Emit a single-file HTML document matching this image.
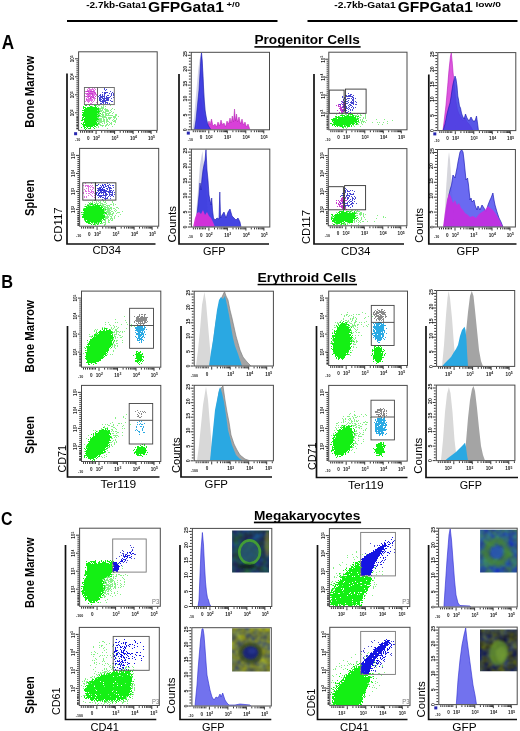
<!DOCTYPE html>
<html><head><meta charset="utf-8"><style>
html,body{margin:0;padding:0;background:#fff;width:520px;height:731px;overflow:hidden}
svg{display:block;font-family:"Liberation Sans", sans-serif;will-change:transform}
</style></head><body>
<svg width="520" height="731" viewBox="0 0 520 731">
<defs>
<filter id="b05" x="-50%" y="-50%" width="200%" height="200%"><feGaussianBlur stdDeviation="0.5"/></filter>
<filter id="b1" x="-50%" y="-50%" width="200%" height="200%"><feGaussianBlur stdDeviation="0.9"/></filter>
<filter id="b15" x="-50%" y="-50%" width="200%" height="200%"><feGaussianBlur stdDeviation="1.3"/></filter>
<filter id="b2" x="-50%" y="-50%" width="200%" height="200%"><feGaussianBlur stdDeviation="1.8"/></filter>
<filter id="b3" x="-50%" y="-50%" width="200%" height="200%"><feGaussianBlur stdDeviation="2.6"/></filter>
<filter id="b4" x="-50%" y="-50%" width="200%" height="200%"><feGaussianBlur stdDeviation="3.6"/></filter>
<filter id="spGL" x="0" y="0" width="520" height="731" filterUnits="userSpaceOnUse" color-interpolation-filters="sRGB">
<feTurbulence type="fractalNoise" baseFrequency="0.9" numOctaves="2" seed="43" result="n"/>
<feColorMatrix in="n" type="matrix" values="0 0 0 0 0 0 0 0 0 0 0 0 0 0 0 1 0 0 0 0" result="a0"/>
<feComponentTransfer in="a0" result="na"><feFuncA type="table" tableValues="0.030 0.030 0.030 0.030 0.030 0.030 0.030 0.030 0.030 0.030 0.030 0.032 0.051 0.076 0.114 0.153 0.200 0.267 0.333 0.418 0.490 0.584 0.667 0.732 0.798 0.845 0.886 0.924 0.949 0.969 0.970 0.970 0.970 0.970 0.970 0.970 0.970 0.970 0.970 0.970 0.970"/></feComponentTransfer>
<feComposite in="SourceAlpha" in2="na" operator="arithmetic" k2="1" k3="-1" k4="0.5" result="df"/>
<feComponentTransfer in="df" result="m"><feFuncA type="discrete" tableValues="0 1"/></feComponentTransfer>
<feFlood flood-color="#86f086" result="f"/>
<feComposite in="f" in2="m" operator="in"/>
<feGaussianBlur stdDeviation="0.55"/>
</filter>
<filter id="spG" x="0" y="0" width="520" height="731" filterUnits="userSpaceOnUse" color-interpolation-filters="sRGB">
<feTurbulence type="fractalNoise" baseFrequency="0.9" numOctaves="2" seed="5" result="n"/>
<feColorMatrix in="n" type="matrix" values="0 0 0 0 0 0 0 0 0 0 0 0 0 0 0 1 0 0 0 0" result="a0"/>
<feComponentTransfer in="a0" result="na"><feFuncA type="table" tableValues="0.030 0.030 0.030 0.030 0.030 0.030 0.030 0.030 0.030 0.030 0.030 0.032 0.051 0.076 0.114 0.153 0.200 0.267 0.333 0.418 0.490 0.584 0.667 0.732 0.798 0.845 0.886 0.924 0.949 0.969 0.970 0.970 0.970 0.970 0.970 0.970 0.970 0.970 0.970 0.970 0.970"/></feComponentTransfer>
<feComposite in="SourceAlpha" in2="na" operator="arithmetic" k2="1" k3="-1" k4="0.5" result="df"/>
<feComponentTransfer in="df" result="m"><feFuncA type="discrete" tableValues="0 1"/></feComponentTransfer>
<feFlood flood-color="#14f014" result="f"/>
<feComposite in="f" in2="m" operator="in"/>
<feGaussianBlur stdDeviation="0.55"/>
</filter>
<filter id="spGR" x="0" y="0" width="520" height="731" filterUnits="userSpaceOnUse" color-interpolation-filters="sRGB">
<feTurbulence type="fractalNoise" baseFrequency="0.9" numOctaves="2" seed="11" result="n"/>
<feColorMatrix in="n" type="matrix" values="0 0 0 0 0 0 0 0 0 0 0 0 0 0 0 1 0 0 0 0" result="a0"/>
<feComponentTransfer in="a0" result="na"><feFuncA type="table" tableValues="0.030 0.030 0.030 0.030 0.030 0.030 0.030 0.030 0.030 0.030 0.030 0.032 0.051 0.076 0.114 0.153 0.200 0.267 0.333 0.418 0.490 0.584 0.667 0.732 0.798 0.845 0.886 0.924 0.949 0.969 0.970 0.970 0.970 0.970 0.970 0.970 0.970 0.970 0.970 0.970 0.970"/></feComponentTransfer>
<feComposite in="SourceAlpha" in2="na" operator="arithmetic" k2="1" k3="-1" k4="0.5" result="df"/>
<feComponentTransfer in="df" result="m"><feFuncA type="discrete" tableValues="0 1"/></feComponentTransfer>
<feFlood flood-color="#8a8a8a" result="f"/>
<feComposite in="f" in2="m" operator="in"/>
<feGaussianBlur stdDeviation="0.55"/>
</filter>
<filter id="spCY" x="0" y="0" width="520" height="731" filterUnits="userSpaceOnUse" color-interpolation-filters="sRGB">
<feTurbulence type="fractalNoise" baseFrequency="0.9" numOctaves="2" seed="17" result="n"/>
<feColorMatrix in="n" type="matrix" values="0 0 0 0 0 0 0 0 0 0 0 0 0 0 0 1 0 0 0 0" result="a0"/>
<feComponentTransfer in="a0" result="na"><feFuncA type="table" tableValues="0.030 0.030 0.030 0.030 0.030 0.030 0.030 0.030 0.030 0.030 0.030 0.032 0.051 0.076 0.114 0.153 0.200 0.267 0.333 0.418 0.490 0.584 0.667 0.732 0.798 0.845 0.886 0.924 0.949 0.969 0.970 0.970 0.970 0.970 0.970 0.970 0.970 0.970 0.970 0.970 0.970"/></feComponentTransfer>
<feComposite in="SourceAlpha" in2="na" operator="arithmetic" k2="1" k3="-1" k4="0.5" result="df"/>
<feComponentTransfer in="df" result="m"><feFuncA type="discrete" tableValues="0 1"/></feComponentTransfer>
<feFlood flood-color="#2aaae4" result="f"/>
<feComposite in="f" in2="m" operator="in"/>
<feGaussianBlur stdDeviation="0.55"/>
</filter>
<filter id="spPK" x="0" y="0" width="520" height="731" filterUnits="userSpaceOnUse" color-interpolation-filters="sRGB">
<feTurbulence type="fractalNoise" baseFrequency="0.9" numOctaves="2" seed="23" result="n"/>
<feColorMatrix in="n" type="matrix" values="0 0 0 0 0 0 0 0 0 0 0 0 0 0 0 1 0 0 0 0" result="a0"/>
<feComponentTransfer in="a0" result="na"><feFuncA type="table" tableValues="0.030 0.030 0.030 0.030 0.030 0.030 0.030 0.030 0.030 0.030 0.030 0.032 0.051 0.076 0.114 0.153 0.200 0.267 0.333 0.418 0.490 0.584 0.667 0.732 0.798 0.845 0.886 0.924 0.949 0.969 0.970 0.970 0.970 0.970 0.970 0.970 0.970 0.970 0.970 0.970 0.970"/></feComponentTransfer>
<feComposite in="SourceAlpha" in2="na" operator="arithmetic" k2="1" k3="-1" k4="0.5" result="df"/>
<feComponentTransfer in="df" result="m"><feFuncA type="discrete" tableValues="0 1"/></feComponentTransfer>
<feFlood flood-color="#e070e0" result="f"/>
<feComposite in="f" in2="m" operator="in"/>
<feGaussianBlur stdDeviation="0.55"/>
</filter>
<filter id="spMG" x="0" y="0" width="520" height="731" filterUnits="userSpaceOnUse" color-interpolation-filters="sRGB">
<feTurbulence type="fractalNoise" baseFrequency="0.9" numOctaves="2" seed="29" result="n"/>
<feColorMatrix in="n" type="matrix" values="0 0 0 0 0 0 0 0 0 0 0 0 0 0 0 1 0 0 0 0" result="a0"/>
<feComponentTransfer in="a0" result="na"><feFuncA type="table" tableValues="0.030 0.030 0.030 0.030 0.030 0.030 0.030 0.030 0.030 0.030 0.030 0.032 0.051 0.076 0.114 0.153 0.200 0.267 0.333 0.418 0.490 0.584 0.667 0.732 0.798 0.845 0.886 0.924 0.949 0.969 0.970 0.970 0.970 0.970 0.970 0.970 0.970 0.970 0.970 0.970 0.970"/></feComponentTransfer>
<feComposite in="SourceAlpha" in2="na" operator="arithmetic" k2="1" k3="-1" k4="0.5" result="df"/>
<feComponentTransfer in="df" result="m"><feFuncA type="discrete" tableValues="0 1"/></feComponentTransfer>
<feFlood flood-color="#c83cd0" result="f"/>
<feComposite in="f" in2="m" operator="in"/>
<feGaussianBlur stdDeviation="0.55"/>
</filter>
<filter id="spBL" x="0" y="0" width="520" height="731" filterUnits="userSpaceOnUse" color-interpolation-filters="sRGB">
<feTurbulence type="fractalNoise" baseFrequency="0.9" numOctaves="2" seed="31" result="n"/>
<feColorMatrix in="n" type="matrix" values="0 0 0 0 0 0 0 0 0 0 0 0 0 0 0 1 0 0 0 0" result="a0"/>
<feComponentTransfer in="a0" result="na"><feFuncA type="table" tableValues="0.030 0.030 0.030 0.030 0.030 0.030 0.030 0.030 0.030 0.030 0.030 0.032 0.051 0.076 0.114 0.153 0.200 0.267 0.333 0.418 0.490 0.584 0.667 0.732 0.798 0.845 0.886 0.924 0.949 0.969 0.970 0.970 0.970 0.970 0.970 0.970 0.970 0.970 0.970 0.970 0.970"/></feComponentTransfer>
<feComposite in="SourceAlpha" in2="na" operator="arithmetic" k2="1" k3="-1" k4="0.5" result="df"/>
<feComponentTransfer in="df" result="m"><feFuncA type="discrete" tableValues="0 1"/></feComponentTransfer>
<feFlood flood-color="#4646d2" result="f"/>
<feComposite in="f" in2="m" operator="in"/>
<feGaussianBlur stdDeviation="0.55"/>
</filter>
<filter id="spDB" x="0" y="0" width="520" height="731" filterUnits="userSpaceOnUse" color-interpolation-filters="sRGB">
<feTurbulence type="fractalNoise" baseFrequency="0.9" numOctaves="2" seed="37" result="n"/>
<feColorMatrix in="n" type="matrix" values="0 0 0 0 0 0 0 0 0 0 0 0 0 0 0 1 0 0 0 0" result="a0"/>
<feComponentTransfer in="a0" result="na"><feFuncA type="table" tableValues="0.030 0.030 0.030 0.030 0.030 0.030 0.030 0.030 0.030 0.030 0.030 0.032 0.051 0.076 0.114 0.153 0.200 0.267 0.333 0.418 0.490 0.584 0.667 0.732 0.798 0.845 0.886 0.924 0.949 0.969 0.970 0.970 0.970 0.970 0.970 0.970 0.970 0.970 0.970 0.970 0.970"/></feComponentTransfer>
<feComposite in="SourceAlpha" in2="na" operator="arithmetic" k2="1" k3="-1" k4="0.5" result="df"/>
<feComponentTransfer in="df" result="m"><feFuncA type="discrete" tableValues="0 1"/></feComponentTransfer>
<feFlood flood-color="#1414e2" result="f"/>
<feComposite in="f" in2="m" operator="in"/>
<feGaussianBlur stdDeviation="0.55"/>
</filter>
<clipPath id="c1"><rect x="79.20" y="105.20" width="77.40" height="24.60"/></clipPath>
<clipPath id="c2"><rect x="84.80" y="87.90" width="12.70" height="16.50"/></clipPath>
<clipPath id="c3"><rect x="97.50" y="87.90" width="16.60" height="16.50"/></clipPath>
<clipPath id="c4"><rect x="79.20" y="52.40" width="77.40" height="77.40"/></clipPath>
<clipPath id="c5"><rect x="80.20" y="200.60" width="77.80" height="25.00"/></clipPath>
<clipPath id="c6"><rect x="95.40" y="183.20" width="20.10" height="16.60"/></clipPath>
<clipPath id="c7"><rect x="83.20" y="183.20" width="12.20" height="16.60"/></clipPath>
<clipPath id="c8"><rect x="329.40" y="113.60" width="77.00" height="15.60"/></clipPath>
<clipPath id="c9"><rect x="329.60" y="89.50" width="36.20" height="23.50"/></clipPath>
<clipPath id="c10"><rect x="329.40" y="52.80" width="77.00" height="76.40"/></clipPath>
<clipPath id="c11"><rect x="328.90" y="210.10" width="77.40" height="15.10"/></clipPath>
<clipPath id="c12"><rect x="328.90" y="186.00" width="36.50" height="23.50"/></clipPath>
<clipPath id="c13"><rect x="328.90" y="149.20" width="77.40" height="76.00"/></clipPath>
<clipPath id="c14"><rect x="82.10" y="291.70" width="78.10" height="74.90"/></clipPath>
<clipPath id="c15"><rect x="130.00" y="348.60" width="22.00" height="17.40"/></clipPath>
<clipPath id="c16"><rect x="130.00" y="308.70" width="23.10" height="16.60"/></clipPath>
<clipPath id="c17"><rect x="130.00" y="325.70" width="23.10" height="22.30"/></clipPath>
<clipPath id="c18"><rect x="82.10" y="386.00" width="78.10" height="74.90"/></clipPath>
<clipPath id="c19"><rect x="130.00" y="444.30" width="22.40" height="15.70"/></clipPath>
<clipPath id="c20"><rect x="129.60" y="403.90" width="22.70" height="16.20"/></clipPath>
<clipPath id="c21"><rect x="129.60" y="420.50" width="22.70" height="23.20"/></clipPath>
<clipPath id="c22"><rect x="329.30" y="291.70" width="77.60" height="73.20"/></clipPath>
<clipPath id="c23"><rect x="371.50" y="345.80" width="22.50" height="19.20"/></clipPath>
<clipPath id="c24"><rect x="371.70" y="305.80" width="22.00" height="16.40"/></clipPath>
<clipPath id="c25"><rect x="371.70" y="322.60" width="22.00" height="22.50"/></clipPath>
<clipPath id="c26"><rect x="329.30" y="386.00" width="77.30" height="74.50"/></clipPath>
<clipPath id="c27"><rect x="371.40" y="440.20" width="22.60" height="20.30"/></clipPath>
<clipPath id="c28"><rect x="371.40" y="400.60" width="22.60" height="16.20"/></clipPath>
<clipPath id="c29"><rect x="371.40" y="417.20" width="22.60" height="22.30"/></clipPath>
<clipPath id="c30"><rect x="80.20" y="528.80" width="79.50" height="76.90"/></clipPath>
<clipPath id="c31"><rect x="113.10" y="539.40" width="32.70" height="32.30"/></clipPath>
<clipPath id="c32"><rect x="79.90" y="628.00" width="78.80" height="76.90"/></clipPath>
<clipPath id="c33"><rect x="113.60" y="636.80" width="35.20" height="33.10"/></clipPath>
<clipPath id="c34"><rect x="330.00" y="529.20" width="79.20" height="76.80"/></clipPath>
<clipPath id="c35"><rect x="361.10" y="532.80" width="33.90" height="42.70"/></clipPath>
<clipPath id="c36"><rect x="330.40" y="627.90" width="79.00" height="77.10"/></clipPath>
<clipPath id="c37"><rect x="361.10" y="631.80" width="33.90" height="42.20"/></clipPath>
<clipPath id="c38"><rect x="191.80" y="52.80" width="77.20" height="76.50"/></clipPath>
<clipPath id="c39"><rect x="191.90" y="149.60" width="77.40" height="76.90"/></clipPath>
<clipPath id="c40"><rect x="438.30" y="53.10" width="77.00" height="77.00"/></clipPath>
<clipPath id="c41"><rect x="438.00" y="150.00" width="76.90" height="76.50"/></clipPath>
<clipPath id="c42"><rect x="194.70" y="291.70" width="78.20" height="73.80"/></clipPath>
<clipPath id="c43"><rect x="194.70" y="385.80" width="78.20" height="74.50"/></clipPath>
<clipPath id="c44"><rect x="437.10" y="291.00" width="77.10" height="74.90"/></clipPath>
<clipPath id="c45"><rect x="436.80" y="385.60" width="77.60" height="74.50"/></clipPath>
<clipPath id="c46"><rect x="192.90" y="528.90" width="78.40" height="77.10"/></clipPath>
<clipPath id="c47"><rect x="192.40" y="628.20" width="78.40" height="77.30"/></clipPath>
<clipPath id="c48"><rect x="439.10" y="528.70" width="77.60" height="77.80"/></clipPath>
<clipPath id="c49"><rect x="439.30" y="627.60" width="77.40" height="76.50"/></clipPath>
<filter id="m1" x="232.1" y="530.4" width="36.900000000000006" height="42.0" filterUnits="userSpaceOnUse" color-interpolation-filters="sRGB"><feTurbulence type="fractalNoise" baseFrequency="0.12" numOctaves="2" seed="3"/><feColorMatrix type="matrix" values="-0.039 0.000 0 0 0.137  -0.059 0.314 0 0 0.116  0.471 0.078 0 0 0.078  0 0 0 0 1"/></filter>
<clipPath id="c50"><rect x="232.10" y="530.40" width="36.90" height="42.00"/></clipPath>
<filter id="m2" x="480.1" y="529.8" width="36.89999999999998" height="42.700000000000045" filterUnits="userSpaceOnUse" color-interpolation-filters="sRGB"><feTurbulence type="fractalNoise" baseFrequency="0.12" numOctaves="2" seed="7"/><feColorMatrix type="matrix" values="-0.118 0.118 0 0 0.176  -0.118 0.392 0 0 0.235  0.549 -0.157 0 0 0.333  0 0 0 0 1"/></filter>
<clipPath id="c51"><rect x="480.10" y="529.80" width="36.90" height="42.70"/></clipPath>
<filter id="m3" x="232.1" y="628.2" width="37.79999999999998" height="43.299999999999955" filterUnits="userSpaceOnUse" color-interpolation-filters="sRGB"><feTurbulence type="fractalNoise" baseFrequency="0.12" numOctaves="2" seed="11"/><feColorMatrix type="matrix" values="0.510 -0.235 0 0 0.294  0.510 -0.157 0 0 0.302  -0.275 0.431 0 0 0.165  0 0 0 0 1"/></filter>
<clipPath id="c52"><rect x="232.10" y="628.20" width="37.80" height="43.30"/></clipPath>
<filter id="m4" x="480.0" y="629.4" width="37.5" height="41.89999999999998" filterUnits="userSpaceOnUse" color-interpolation-filters="sRGB"><feTurbulence type="fractalNoise" baseFrequency="0.12" numOctaves="2" seed="13"/><feColorMatrix type="matrix" values="0.431 -0.118 0 0 0.059  0.471 -0.059 0 0 0.049  -0.235 0.471 0 0 0.118  0 0 0 0 1"/></filter>
<clipPath id="c53"><rect x="480.00" y="629.40" width="37.50" height="41.90"/></clipPath>
</defs>
<text x="86.2" y="7.6" font-size="8.6" font-weight="bold" text-anchor="start" fill="#000" textLength="60.3" lengthAdjust="spacingAndGlyphs" >-2.7kb-Gata1</text>
<text x="148" y="12.4" font-size="14.4" font-weight="bold" text-anchor="start" fill="#000" textLength="76" lengthAdjust="spacingAndGlyphs" >GFPGata1</text>
<text x="226.6" y="6.6" font-size="7.6" font-weight="bold" text-anchor="start" fill="#000" textLength="13.4" lengthAdjust="spacingAndGlyphs" >+/0</text>
<text x="334.3" y="7.6" font-size="8.6" font-weight="bold" text-anchor="start" fill="#000" textLength="61.4" lengthAdjust="spacingAndGlyphs" >-2.7kb-Gata1</text>
<text x="397.8" y="12.4" font-size="14.4" font-weight="bold" text-anchor="start" fill="#000" textLength="75" lengthAdjust="spacingAndGlyphs" >GFPGata1</text>
<text x="475.4" y="6.6" font-size="7.6" font-weight="bold" text-anchor="start" fill="#000" textLength="25.6" lengthAdjust="spacingAndGlyphs" >low/0</text>
<line x1="67" y1="21" x2="277.5" y2="21" stroke="#000" stroke-width="2"/>
<line x1="307.5" y1="21" x2="517.5" y2="21" stroke="#000" stroke-width="2"/>
<text x="1.8" y="49.2" font-size="20.3" font-weight="bold" text-anchor="start" fill="#000" textLength="12.4" lengthAdjust="spacingAndGlyphs" >A</text>
<text x="1.2" y="288.2" font-size="18.6" font-weight="bold" text-anchor="start" fill="#000" textLength="11.8" lengthAdjust="spacingAndGlyphs" >B</text>
<text x="1.0" y="524.6" font-size="19.2" font-weight="bold" text-anchor="start" fill="#000" textLength="11.5" lengthAdjust="spacingAndGlyphs" >C</text>
<text x="254.4" y="44.1" font-size="12.9" font-weight="bold" text-anchor="start" fill="#000" textLength="105.4" lengthAdjust="spacingAndGlyphs" >Progenitor Cells</text>
<rect x="254.4" y="46.1" width="106.2" height="1.6000000000000014" fill="#000"/>
<text x="257.6" y="282.3" font-size="12.9" font-weight="bold" text-anchor="start" fill="#000" textLength="98.59999999999997" lengthAdjust="spacingAndGlyphs" >Erythroid Cells</text>
<rect x="257.6" y="283.8" width="99.39999999999996" height="1.5" fill="#000"/>
<text x="253.9" y="520.0" font-size="12.9" font-weight="bold" text-anchor="start" fill="#000" textLength="106.4" lengthAdjust="spacingAndGlyphs" >Megakaryocytes</text>
<rect x="253.9" y="521.6" width="107.2" height="1.6999999999999318" fill="#000"/>
<text x="33.6" y="127.7" font-size="12.4" font-weight="bold" text-anchor="start" fill="#000" textLength="72.0" lengthAdjust="spacingAndGlyphs" transform="rotate(-90 33.6 127.7)" >Bone Marrow</text>
<text x="33.6" y="216.0" font-size="12.4" font-weight="bold" text-anchor="start" fill="#000" textLength="36.599999999999994" lengthAdjust="spacingAndGlyphs" transform="rotate(-90 33.6 216.0)" >Spleen</text>
<text x="33.6" y="372.5" font-size="12.4" font-weight="bold" text-anchor="start" fill="#000" textLength="72.5" lengthAdjust="spacingAndGlyphs" transform="rotate(-90 33.6 372.5)" >Bone Marrow</text>
<text x="33.6" y="453.7" font-size="12.4" font-weight="bold" text-anchor="start" fill="#000" textLength="37.69999999999999" lengthAdjust="spacingAndGlyphs" transform="rotate(-90 33.6 453.7)" >Spleen</text>
<text x="33.6" y="608" font-size="12.4" font-weight="bold" text-anchor="start" fill="#000" textLength="70.5" lengthAdjust="spacingAndGlyphs" transform="rotate(-90 33.6 608)" >Bone Marrow</text>
<text x="33.6" y="713.7" font-size="12.4" font-weight="bold" text-anchor="start" fill="#000" textLength="37.5" lengthAdjust="spacingAndGlyphs" transform="rotate(-90 33.6 713.7)" >Spleen</text>
<g filter="url(#spGL)"><g clip-path="url(#c1)"><ellipse cx="97" cy="116" rx="13" ry="10" transform="rotate(0 97 116)" fill-opacity="0.55" filter="url(#b2)"/></g><g clip-path="url(#c1)"><ellipse cx="104" cy="117" rx="14" ry="10" transform="rotate(0 104 117)" fill-opacity="0.38" filter="url(#b3)"/></g><g clip-path="url(#c5)"><ellipse cx="98" cy="213" rx="15" ry="11.5" transform="rotate(0 98 213)" fill-opacity="0.55" filter="url(#b2)"/></g><g clip-path="url(#c5)"><ellipse cx="105" cy="212" rx="16" ry="11" transform="rotate(0 105 212)" fill-opacity="0.25" filter="url(#b3)"/></g><g clip-path="url(#c8)"><ellipse cx="349" cy="120" rx="17" ry="8" transform="rotate(-5 349 120)" fill-opacity="0.4" filter="url(#b2)"/></g><g clip-path="url(#c8)"><ellipse cx="372" cy="121" rx="22" ry="4" transform="rotate(0 372 121)" fill-opacity="0.06" filter="url(#b2)"/></g><g clip-path="url(#c11)"><ellipse cx="348" cy="217" rx="17" ry="8" transform="rotate(-6 348 217)" fill-opacity="0.4" filter="url(#b2)"/></g><g clip-path="url(#c11)"><ellipse cx="372" cy="218" rx="22" ry="4" transform="rotate(0 372 218)" fill-opacity="0.06" filter="url(#b2)"/></g><g clip-path="url(#c14)"><ellipse cx="103" cy="342" rx="20" ry="13" transform="rotate(-40 103 342)" fill-opacity="0.35" filter="url(#b3)"/></g><g clip-path="url(#c14)"><ellipse cx="118" cy="329" rx="20" ry="9" transform="rotate(-30 118 329)" fill-opacity="0.08" filter="url(#b3)"/></g><g clip-path="url(#c18)"><ellipse cx="103" cy="441" rx="19" ry="12" transform="rotate(-40 103 441)" fill-opacity="0.3" filter="url(#b3)"/></g><g clip-path="url(#c18)"><ellipse cx="118" cy="425" rx="18" ry="8" transform="rotate(-30 118 425)" fill-opacity="0.07" filter="url(#b3)"/></g><g clip-path="url(#c22)"><ellipse cx="346" cy="335" rx="13" ry="22" transform="rotate(15 346 335)" fill-opacity="0.3" filter="url(#b3)"/></g><g clip-path="url(#c22)"><ellipse cx="360" cy="320" rx="15" ry="10" transform="rotate(0 360 320)" fill-opacity="0.06" filter="url(#b3)"/></g><g clip-path="url(#c26)"><ellipse cx="348" cy="434" rx="14" ry="20" transform="rotate(25 348 434)" fill-opacity="0.3" filter="url(#b3)"/></g><g clip-path="url(#c26)"><ellipse cx="360" cy="420" rx="14" ry="8" transform="rotate(0 360 420)" fill-opacity="0.06" filter="url(#b3)"/></g><g clip-path="url(#c30)"><path d="M100.0 572.0 L114.0 571.0 L115.0 582.0 L110.0 592.0 L102.0 596.0Z" fill-opacity="0.55" filter="url(#b2)"/></g><g clip-path="url(#c30)"><ellipse cx="104" cy="582" rx="22" ry="18" transform="rotate(-35 104 582)" fill-opacity="0.18" filter="url(#b4)"/></g><g clip-path="url(#c32)"><path d="M83.0 680.0 L100.0 672.0 L113.0 667.0 L133.0 667.0 L135.0 690.0 L131.0 702.0 L110.0 704.0 L88.0 704.0 L82.0 697.0Z" fill-opacity="0.3" filter="url(#b2)"/></g><g clip-path="url(#c32)"><ellipse cx="105" cy="660" rx="14" ry="20" transform="rotate(0 105 660)" fill-opacity="0.1" filter="url(#b3)"/></g><g clip-path="url(#c34)"><ellipse cx="352" cy="582" rx="36" ry="22" transform="rotate(-45 352 582)" fill-opacity="0.1" filter="url(#b4)"/></g><g clip-path="url(#c36)"><ellipse cx="353" cy="682" rx="36" ry="22" transform="rotate(-45 353 682)" fill-opacity="0.1" filter="url(#b4)"/></g></g>
<g filter="url(#spG)"><g clip-path="url(#c1)"><path d="M83.0 106.0 L97.5 106.0 L99.5 113.0 L98.0 123.0 L95.0 127.5 L83.5 128.5 L82.5 118.0Z" fill-opacity="1.0" filter="url(#b1)"/></g><g clip-path="url(#c5)"><ellipse cx="94" cy="214" rx="11.5" ry="9.8" transform="rotate(0 94 214)" fill-opacity="1.0" filter="url(#b1)"/></g><g clip-path="url(#c8)"><ellipse cx="345" cy="121" rx="13.5" ry="6" transform="rotate(-5 345 121)" fill-opacity="1.0" filter="url(#b1)"/></g><g clip-path="url(#c11)"><ellipse cx="344" cy="217.5" rx="13" ry="6" transform="rotate(-8 344 217.5)" fill-opacity="1.0" filter="url(#b1)"/></g><g clip-path="url(#c14)"><path d="M86.0 350.0 L89.0 341.0 L96.0 334.0 L104.0 329.0 L110.0 329.0 L113.0 335.0 L112.0 344.0 L108.0 352.0 L102.0 359.0 L95.0 363.5 L88.0 364.0 L85.5 359.0Z" fill-opacity="1.0" filter="url(#b1)"/></g><g clip-path="url(#c15)"><ellipse cx="139" cy="357" rx="3.8" ry="6" transform="rotate(0 139 357)" fill-opacity="1.0" filter="url(#b1)"/></g><g clip-path="url(#c18)"><path d="M86.0 448.0 L89.0 440.0 L96.0 433.0 L104.0 429.0 L109.0 429.0 L111.0 434.0 L110.0 442.0 L106.0 450.0 L100.0 456.0 L94.0 459.0 L88.0 459.5 L85.5 455.0Z" fill-opacity="1.0" filter="url(#b1)"/></g><g clip-path="url(#c19)"><ellipse cx="141" cy="451" rx="6.5" ry="5" transform="rotate(-20 141 451)" fill-opacity="1.0" filter="url(#b1)"/></g><g clip-path="url(#c22)"><ellipse cx="342" cy="341" rx="9.5" ry="18.5" transform="rotate(8 342 341)" fill-opacity="1.0" filter="url(#b1)"/></g><g clip-path="url(#c23)"><ellipse cx="378" cy="354" rx="5.5" ry="8.5" transform="rotate(0 378 354)" fill-opacity="1.0" filter="url(#b1)"/></g><g clip-path="url(#c26)"><ellipse cx="343" cy="441" rx="10" ry="16" transform="rotate(22 343 441)" fill-opacity="1.0" filter="url(#b1)"/></g><g clip-path="url(#c27)"><ellipse cx="380" cy="449" rx="5" ry="7.5" transform="rotate(10 380 449)" fill-opacity="1.0" filter="url(#b1)"/></g><g clip-path="url(#c30)"><path d="M87.0 562.0 L113.0 561.5 L114.0 572.0 L109.0 577.0 L96.0 579.0 L85.0 575.0Z" fill-opacity="1.0" filter="url(#b1)"/></g><g clip-path="url(#c30)"><ellipse cx="93.5" cy="588" rx="11" ry="15" transform="rotate(5 93.5 588)" fill-opacity="1.0" filter="url(#b1)"/></g><g clip-path="url(#c32)"><path d="M85.0 690.0 L88.0 682.0 L98.0 677.0 L110.0 672.0 L131.0 670.0 L132.5 685.0 L130.0 697.0 L120.0 700.5 L95.0 701.0 L86.0 698.0Z" fill-opacity="0.95" filter="url(#b15)"/></g><g clip-path="url(#c34)"><path d="M331.0 606.0 L331.0 594.0 L337.0 584.0 L346.0 573.0 L355.0 563.0 L361.0 560.0 L361.0 576.0 L372.0 577.0 L369.0 588.0 L363.0 598.0 L360.0 606.0Z" fill-opacity="0.9" filter="url(#b15)"/></g><g clip-path="url(#c34)"><ellipse cx="350" cy="588" rx="26" ry="14" transform="rotate(-50 350 588)" fill-opacity="0.4" filter="url(#b3)"/></g><g clip-path="url(#c36)"><path d="M333.0 706.0 L333.0 695.0 L339.0 685.0 L347.0 675.0 L356.0 667.0 L361.0 664.0 L361.0 675.0 L371.0 676.0 L367.0 688.0 L363.0 698.0 L361.0 706.0Z" fill-opacity="1.0" filter="url(#b15)"/></g><g clip-path="url(#c36)"><ellipse cx="351" cy="688" rx="26" ry="14" transform="rotate(-50 351 688)" fill-opacity="0.4" filter="url(#b3)"/></g></g>
<g filter="url(#spGR)"><g clip-path="url(#c4)"><ellipse cx="95" cy="72" rx="10" ry="12" transform="rotate(0 95 72)" fill-opacity="0.012" filter="url(#b3)"/></g><g clip-path="url(#c16)"><ellipse cx="141.5" cy="319.5" rx="6.5" ry="5" transform="rotate(0 141.5 319.5)" fill-opacity="0.9" filter="url(#b15)"/></g><g clip-path="url(#c20)"><ellipse cx="140" cy="414" rx="4" ry="4" transform="rotate(0 140 414)" fill-opacity="0.3" filter="url(#b2)"/></g><g clip-path="url(#c24)"><ellipse cx="380" cy="315" rx="6.5" ry="5.5" transform="rotate(0 380 315)" fill-opacity="0.85" filter="url(#b15)"/></g><g clip-path="url(#c28)"><ellipse cx="381" cy="412.5" rx="6" ry="4" transform="rotate(0 381 412.5)" fill-opacity="0.7" filter="url(#b15)"/></g></g>
<g filter="url(#spCY)"><g clip-path="url(#c17)"><ellipse cx="140.5" cy="333" rx="4.5" ry="9" transform="rotate(0 140.5 333)" fill-opacity="0.85" filter="url(#b15)"/></g><g clip-path="url(#c17)"><ellipse cx="140.5" cy="328" rx="5.5" ry="3.5" transform="rotate(0 140.5 328)" fill-opacity="0.8" filter="url(#b1)"/></g><g clip-path="url(#c21)"><ellipse cx="140" cy="427" rx="4" ry="7" transform="rotate(0 140 427)" fill-opacity="0.28" filter="url(#b2)"/></g><g clip-path="url(#c25)"><ellipse cx="379" cy="331" rx="6" ry="10.5" transform="rotate(0 379 331)" fill-opacity="0.9" filter="url(#b15)"/></g><g clip-path="url(#c29)"><ellipse cx="380.5" cy="426" rx="6" ry="9.5" transform="rotate(0 380.5 426)" fill-opacity="0.88" filter="url(#b15)"/></g></g>
<g filter="url(#spPK)"><g clip-path="url(#c2)"><ellipse cx="91" cy="95.5" rx="6" ry="8" transform="rotate(0 91 95.5)" fill-opacity="0.8" filter="url(#b2)"/></g><g clip-path="url(#c7)"><ellipse cx="89" cy="192" rx="7" ry="8" transform="rotate(0 89 192)" fill-opacity="0.3" filter="url(#b2)"/></g></g>
<g filter="url(#spMG)"><g clip-path="url(#c2)"><ellipse cx="91" cy="95" rx="4" ry="5" transform="rotate(0 91 95)" fill-opacity="0.45" filter="url(#b2)"/></g><g clip-path="url(#c9)"><ellipse cx="343" cy="107.5" rx="5" ry="6" transform="rotate(0 343 107.5)" fill-opacity="0.65" filter="url(#b2)"/></g><g clip-path="url(#c12)"><ellipse cx="342" cy="203.5" rx="5" ry="6" transform="rotate(0 342 203.5)" fill-opacity="0.7" filter="url(#b2)"/></g></g>
<g filter="url(#spBL)"><g clip-path="url(#c3)"><ellipse cx="104" cy="99.5" rx="5.5" ry="5" transform="rotate(0 104 99.5)" fill-opacity="0.75" filter="url(#b2)"/></g><g clip-path="url(#c3)"><ellipse cx="107" cy="95" rx="8" ry="7" transform="rotate(0 107 95)" fill-opacity="0.25" filter="url(#b2)"/></g><g clip-path="url(#c6)"><ellipse cx="105" cy="191.5" rx="10" ry="8" transform="rotate(0 105 191.5)" fill-opacity="0.6" filter="url(#b2)"/></g><g clip-path="url(#c9)"><ellipse cx="348.5" cy="103" rx="7" ry="10" transform="rotate(0 348.5 103)" fill-opacity="0.45" filter="url(#b2)"/></g><g clip-path="url(#c10)"><ellipse cx="345" cy="80" rx="6" ry="8" transform="rotate(0 345 80)" fill-opacity="0.025" filter="url(#b3)"/></g><g clip-path="url(#c12)"><ellipse cx="348.5" cy="199" rx="7" ry="10" transform="rotate(0 348.5 199)" fill-opacity="0.45" filter="url(#b2)"/></g><g clip-path="url(#c13)"><ellipse cx="345" cy="176" rx="6" ry="8" transform="rotate(0 345 176)" fill-opacity="0.025" filter="url(#b3)"/></g><g clip-path="url(#c31)"><ellipse cx="127" cy="556" rx="14" ry="6" transform="rotate(-40 127 556)" fill-opacity="0.12" filter="url(#b3)"/></g><g clip-path="url(#c35)"><ellipse cx="378" cy="555" rx="25" ry="14" transform="rotate(-40 378 555)" fill-opacity="0.05" filter="url(#b3)"/></g><g clip-path="url(#c37)"><ellipse cx="376" cy="655" rx="24" ry="14" transform="rotate(-45 376 655)" fill-opacity="0.06" filter="url(#b3)"/></g></g>
<g filter="url(#spDB)"><g clip-path="url(#c6)"><ellipse cx="102" cy="190" rx="4" ry="4" transform="rotate(0 102 190)" fill-opacity="0.25" filter="url(#b2)"/></g><g clip-path="url(#c31)"><path d="M113.0 572.0 L113.0 562.5 L116.5 562.0 L120.0 566.0 L118.0 572.0Z" fill-opacity="1.0" filter="url(#b05)"/></g><g clip-path="url(#c31)"><ellipse cx="126" cy="558" rx="11" ry="2.6" transform="rotate(-40 126 558)" fill-opacity="0.5" filter="url(#b15)"/></g><g clip-path="url(#c33)"><ellipse cx="120" cy="656" rx="9" ry="16" transform="rotate(0 120 656)" fill-opacity="0.38" filter="url(#b3)"/></g><g clip-path="url(#c33)"><ellipse cx="133" cy="653" rx="10" ry="14" transform="rotate(0 133 653)" fill-opacity="0.12" filter="url(#b3)"/></g><g clip-path="url(#c35)"><path d="M361.0 576.0 L361.0 559.0 L368.0 554.0 L376.0 549.0 L383.0 545.0 L386.0 545.0 L382.0 551.0 L377.0 560.0 L373.0 568.0 L371.0 576.0Z" fill-opacity="1.0" filter="url(#b05)"/></g><g clip-path="url(#c35)"><ellipse cx="386" cy="545" rx="10" ry="2.4" transform="rotate(-38 386 545)" fill-opacity="0.35" filter="url(#b1)"/></g><g clip-path="url(#c35)"><ellipse cx="376" cy="558" rx="19" ry="8" transform="rotate(-42 376 558)" fill-opacity="0.22" filter="url(#b2)"/></g><g clip-path="url(#c37)"><path d="M361.0 675.0 L361.0 664.0 L367.0 657.0 L374.0 650.0 L381.0 644.0 L387.0 640.0 L390.0 641.0 L386.0 647.0 L379.0 655.0 L372.0 664.0 L368.0 675.0Z" fill-opacity="0.92" filter="url(#b05)"/></g><g clip-path="url(#c37)"><ellipse cx="377" cy="657" rx="22" ry="7" transform="rotate(-48 377 657)" fill-opacity="0.35" filter="url(#b2)"/></g></g>
<g clip-path="url(#c38)">
<path d="M192.5 129.8 L194.0 118.0 L196.0 95.0 L198.0 72.0 L199.5 60.0 L201.0 54.0 L202.5 62.0 L204.0 85.0 L205.5 108.0 L207.0 124.0 L209.0 129.8Z" fill="#d2d2e8" fill-opacity="1"/>
<path d="M197.0 129.8 L198.0 118.0 L199.0 105.0 L200.0 98.0 L201.0 100.0 L202.0 104.0 L203.0 112.0 L204.5 118.0 L206.0 122.0 L207.5 126.0 L209.0 121.0 L210.0 125.0 L211.5 119.0 L213.0 126.0 L215.0 124.0 L216.5 127.0 L218.0 122.0 L219.5 126.0 L221.0 120.0 L222.5 125.0 L224.0 123.0 L225.5 127.0 L227.0 121.0 L228.5 124.0 L230.0 118.0 L231.2 123.0 L232.3 116.0 L233.5 122.0 L234.5 109.0 L235.5 121.0 L236.5 114.0 L237.5 122.0 L239.0 117.0 L240.5 124.0 L242.0 119.0 L243.5 125.0 L245.0 122.0 L246.5 127.0 L248.0 124.0 L250.0 129.8Z" fill="#d840d8" fill-opacity="1" stroke="#b020b0" stroke-width="0.5" stroke-linejoin="round"/>
<path d="M194.5 129.8 L196.0 120.0 L197.0 110.0 L198.0 100.0 L199.0 90.0 L199.6 80.0 L200.3 68.0 L200.9 58.0 L201.5 52.6 L202.2 60.0 L202.8 72.0 L203.2 80.0 L203.7 92.0 L204.2 100.0 L205.0 110.0 L206.0 116.0 L206.8 120.0 L208.0 125.0 L209.5 127.5 L211.0 129.8Z" fill="#3a3ae0" fill-opacity="0.95" stroke="#1a1ab0" stroke-width="0.6" stroke-linejoin="round"/>
</g>
<g clip-path="url(#c39)">
<path d="M195.0 227.0 L198.0 190.0 L200.0 165.0 L202.4 151.0 L204.0 165.0 L206.0 190.0 L208.0 215.0 L210.0 227.0Z" fill="#d0d0e6" fill-opacity="1"/>
<path d="M195.0 227.0 L197.0 215.0 L199.0 195.0 L200.0 183.0 L201.0 190.0 L202.0 178.0 L203.0 170.0 L204.0 165.0 L205.0 160.0 L206.0 149.5 L207.0 170.0 L208.0 180.0 L209.0 195.0 L210.0 200.0 L211.0 205.0 L211.7 198.0 L212.5 210.0 L213.5 218.0 L215.0 220.0 L217.0 218.0 L219.0 219.0 L219.8 192.0 L220.6 218.0 L222.0 215.0 L224.0 212.0 L226.0 218.0 L228.0 212.0 L230.0 209.0 L232.0 216.0 L234.0 218.0 L236.0 220.0 L238.0 218.0 L240.0 222.0 L241.0 227.0Z" fill="#3535e0" fill-opacity="0.92" stroke="#1818b0" stroke-width="0.6" stroke-linejoin="round"/>
<path d="M193.0 227.0 L195.0 218.0 L197.0 213.0 L199.0 212.0 L201.0 214.0 L203.0 210.0 L205.0 215.0 L207.0 212.0 L209.0 216.0 L211.0 218.0 L213.0 222.0 L215.0 227.0Z" fill="#d830d8" fill-opacity="0.95"/>
</g>
<g clip-path="url(#c40)">
<path d="M445.0 130.6 L447.0 100.0 L449.0 70.0 L450.5 58.0 L452.0 75.0 L454.0 110.0 L456.0 130.6Z" fill="#d4d4de" fill-opacity="1"/>
<path d="M443.0 130.6 L444.5 118.0 L446.0 105.0 L447.5 88.0 L449.0 70.0 L450.5 56.0 L451.3 53.0 L452.2 62.0 L453.0 72.0 L454.0 82.0 L455.0 92.0 L456.0 102.0 L457.5 110.0 L459.0 114.0 L461.0 117.0 L463.0 121.0 L465.0 118.0 L467.0 122.0 L469.0 124.0 L471.0 127.0 L473.0 130.6Z" fill="#dc50dc" fill-opacity="0.95" stroke="#b818c0" stroke-width="0.6" stroke-linejoin="round"/>
<path d="M443.0 130.6 L445.0 124.0 L447.0 114.0 L448.5 108.0 L450.0 103.0 L451.0 97.0 L452.0 90.0 L453.0 84.0 L454.0 80.0 L455.0 76.0 L456.0 79.0 L457.0 86.0 L457.8 96.0 L458.6 100.0 L459.5 106.0 L460.5 108.0 L461.5 113.0 L462.5 116.0 L464.0 119.0 L465.5 114.0 L467.0 118.0 L469.0 121.0 L471.0 117.0 L473.0 121.0 L475.0 121.0 L476.5 116.0 L477.5 123.0 L478.5 130.6Z" fill="#4040e4" fill-opacity="0.88" stroke="#1414b0" stroke-width="0.6" stroke-linejoin="round"/>
</g>
<g clip-path="url(#c41)">
<path d="M444.0 227.0 L446.0 190.0 L448.0 160.0 L449.0 152.0 L450.0 160.0 L452.0 190.0 L454.0 227.0Z" fill="#d6d6dc" fill-opacity="1"/>
<path d="M444.0 227.0 L446.0 215.0 L448.0 200.0 L450.0 190.0 L451.5 185.0 L453.0 175.0 L455.0 178.0 L457.0 168.0 L458.0 162.0 L460.0 152.0 L461.6 149.6 L463.0 152.0 L464.0 160.0 L465.0 170.0 L466.0 180.0 L467.5 178.0 L468.5 185.0 L470.0 200.0 L471.0 198.0 L472.0 202.0 L474.0 200.0 L475.0 205.0 L477.0 210.0 L478.0 206.0 L480.0 210.0 L482.0 205.0 L484.0 208.0 L486.0 212.0 L488.0 205.0 L490.0 200.0 L491.0 198.0 L492.9 193.0 L494.0 200.0 L495.0 205.0 L497.0 212.0 L499.0 218.0 L501.0 222.0 L503.0 227.0Z" fill="#5a5af0" fill-opacity="0.9" stroke="#2020b8" stroke-width="0.7" stroke-linejoin="round"/>
<path d="M443.0 227.0 L445.0 212.0 L447.0 200.0 L449.0 193.0 L451.0 197.0 L453.0 203.0 L455.0 200.0 L457.0 205.0 L459.0 203.0 L461.0 208.0 L463.0 210.0 L465.0 213.0 L468.0 215.0 L470.0 217.0 L473.0 216.0 L476.0 218.0 L479.0 214.0 L482.0 212.0 L485.0 210.0 L488.0 206.0 L490.0 208.0 L493.0 210.0 L496.0 214.0 L499.0 219.0 L501.0 223.0 L503.0 227.0Z" fill="#c42ee0" fill-opacity="0.92"/>
</g>
<g clip-path="url(#c42)">
<path d="M196.0 366.0 L198.0 350.0 L200.0 330.0 L202.0 305.0 L204.4 292.0 L206.0 302.0 L208.0 325.0 L210.0 348.0 L211.5 366.0Z" fill="#d8d8d8" fill-opacity="1"/>
<path d="M210.0 366.0 L213.0 345.0 L216.0 322.0 L219.0 305.0 L222.0 297.0 L224.5 291.5 L226.0 296.0 L228.0 300.0 L230.0 310.0 L232.0 318.0 L234.0 327.0 L236.0 336.0 L238.0 343.0 L240.0 350.0 L243.0 357.0 L247.0 362.0 L251.0 366.0Z" fill="#a4a4a4" fill-opacity="1" stroke="#777" stroke-width="0.6" stroke-linejoin="round"/>
<path d="M209.0 366.0 L211.0 352.0 L213.0 340.0 L215.0 325.0 L217.0 310.0 L219.0 300.0 L221.0 297.0 L223.0 299.0 L225.0 296.0 L227.0 305.0 L229.0 315.0 L231.0 327.0 L233.0 338.0 L235.0 346.0 L238.0 354.0 L242.0 366.0Z" fill="#2aa8e2" fill-opacity="1"/>
</g>
<g clip-path="url(#c43)">
<path d="M197.0 460.8 L199.0 445.0 L201.0 425.0 L203.0 405.0 L206.0 386.5 L208.0 400.0 L210.0 425.0 L212.0 448.0 L213.5 460.8Z" fill="#d8d8d8" fill-opacity="1"/>
<path d="M211.0 460.8 L214.0 430.0 L217.0 405.0 L219.0 392.0 L221.0 388.0 L223.0 386.0 L225.0 400.0 L227.0 412.0 L229.0 422.0 L231.0 435.0 L234.0 444.0 L237.0 450.0 L240.0 455.0 L245.0 459.0 L250.0 460.8Z" fill="#a4a4a4" fill-opacity="1" stroke="#777" stroke-width="0.6" stroke-linejoin="round"/>
<path d="M210.0 460.8 L212.0 440.0 L215.0 410.0 L217.0 400.0 L219.0 390.0 L220.1 387.0 L222.0 393.0 L224.0 402.0 L226.0 415.0 L228.0 430.0 L232.0 445.0 L236.0 455.0 L240.0 459.0 L243.0 460.8Z" fill="#2aa8e2" fill-opacity="1"/>
</g>
<g clip-path="url(#c44)">
<path d="M442.0 366.4 L444.0 345.0 L446.0 315.0 L447.5 298.0 L448.6 291.0 L450.0 298.0 L452.0 318.0 L454.0 345.0 L456.0 366.4Z" fill="#d8d8d8" fill-opacity="1"/>
<path d="M462.0 366.4 L464.0 352.0 L466.0 332.0 L468.0 312.0 L470.0 296.0 L471.8 291.0 L473.5 296.0 L475.0 310.0 L477.0 330.0 L479.0 350.0 L481.0 361.0 L483.0 366.4Z" fill="#a4a4a4" fill-opacity="1"/>
<path d="M442.0 366.4 L445.0 363.0 L448.0 360.0 L451.0 357.0 L454.0 352.0 L456.0 349.0 L458.0 345.0 L460.0 336.0 L462.0 330.0 L464.5 326.8 L465.5 330.0 L466.5 340.0 L467.2 355.0 L468.0 366.4Z" fill="#2aa8e2" fill-opacity="1"/>
</g>
<g clip-path="url(#c45)">
<path d="M441.0 460.6 L443.0 440.0 L445.0 412.0 L447.0 394.0 L448.9 387.0 L450.5 393.0 L452.5 412.0 L454.5 440.0 L457.0 460.6Z" fill="#d8d8d8" fill-opacity="1"/>
<path d="M464.0 460.6 L466.0 442.0 L468.0 418.0 L470.0 400.0 L472.0 389.0 L473.5 386.0 L475.0 391.0 L477.0 408.0 L479.0 428.0 L481.0 446.0 L483.0 455.0 L485.0 460.6Z" fill="#a4a4a4" fill-opacity="1"/>
<path d="M445.0 460.6 L448.0 458.0 L452.0 455.0 L456.0 452.0 L460.0 448.0 L463.0 445.0 L465.0 442.8 L466.0 447.0 L467.0 455.0 L468.0 460.6Z" fill="#2aa8e2" fill-opacity="1"/>
</g>
<g clip-path="url(#c46)">
<path d="M198.0 606.5 L199.0 600.0 L200.0 575.0 L201.0 550.0 L202.4 532.5 L203.5 545.0 L204.5 565.0 L205.5 582.0 L206.5 592.0 L207.5 598.0 L208.5 600.0 L209.5 604.0 L211.0 606.5Z" fill="#7272ee" fill-opacity="1" stroke="#2a2ad0" stroke-width="0.6" stroke-linejoin="round"/>
</g>
<g clip-path="url(#c47)">
<path d="M195.0 706.0 L196.0 695.0 L197.0 685.0 L198.0 670.0 L199.0 658.0 L200.5 640.0 L202.0 629.0 L203.0 628.5 L204.0 635.0 L205.0 648.0 L206.0 662.0 L207.0 675.0 L208.0 680.0 L209.0 685.0 L210.0 690.0 L212.0 697.0 L214.0 700.0 L216.0 697.0 L218.0 698.0 L220.0 694.0 L221.0 697.0 L222.7 693.0 L224.0 697.0 L225.0 700.0 L227.0 703.0 L229.0 705.0 L235.0 705.0 L240.0 704.0 L245.0 704.5 L250.0 705.0 L251.0 706.0Z" fill="#7272ee" fill-opacity="1" stroke="#2a2ad0" stroke-width="0.6" stroke-linejoin="round"/>
</g>
<g clip-path="url(#c48)">
<path d="M443.9 607.0 L445.0 590.0 L447.0 560.0 L449.0 535.0 L450.2 528.5 L451.5 540.0 L453.0 560.0 L454.5 580.0 L456.0 595.0 L458.0 603.0 L460.0 605.5 L470.0 606.0 L471.0 607.0Z" fill="#7272ee" fill-opacity="1" stroke="#2a2ad0" stroke-width="0.6" stroke-linejoin="round"/>
</g>
<g clip-path="url(#c49)">
<path d="M456.3 704.6 L458.0 680.0 L460.0 660.0 L462.0 645.0 L464.0 635.0 L465.7 628.0 L467.0 640.0 L469.0 655.0 L471.0 670.0 L473.0 685.0 L475.0 695.0 L476.5 704.6Z" fill="#7272ee" fill-opacity="1" stroke="#2a2ad0" stroke-width="0.6" stroke-linejoin="round"/>
</g>
<g clip-path="url(#c50)">
<rect x="232.1" y="530.4" width="36.9" height="42.0" filter="url(#m1)"/>
<ellipse cx="267.5" cy="544" rx="3" ry="13" fill="#8a8630" opacity="0.6" filter="url(#b15)"/>
<ellipse cx="249.6" cy="552" rx="10.2" ry="11.5" fill="#2a6070" opacity="0.7" filter="url(#b1)"/>
<ellipse cx="249.6" cy="552" rx="10.3" ry="11.6" fill="none" stroke="#46a430" stroke-width="2.6" opacity="0.92" filter="url(#b05)"/>
<ellipse cx="247" cy="566.5" rx="9" ry="2.5" fill="#0c1a0c" opacity="0.7" filter="url(#b1)"/>
</g>
<g clip-path="url(#c51)">
<rect x="480.1" y="529.8" width="36.9" height="42.7" filter="url(#m2)"/>
<ellipse cx="496.7" cy="552.2" rx="10.5" ry="11" fill="none" stroke="#4a8826" stroke-width="6" opacity="0.7" filter="url(#b2)"/>
<ellipse cx="496.7" cy="552.5" rx="6" ry="6" fill="#2c56b0" opacity="0.85" filter="url(#b1)"/>
</g>
<g clip-path="url(#c52)">
<rect x="232.1" y="628.2" width="37.8" height="43.3" filter="url(#m3)"/>
<ellipse cx="250.4" cy="653" rx="12" ry="10.5" fill="#34441c" opacity="0.75" filter="url(#b15)"/>
<ellipse cx="250.4" cy="652.8" rx="8" ry="6.8" fill="#1c2876" filter="url(#b1)"/>
<ellipse cx="252" cy="651" rx="4" ry="3" fill="#2a3a9a" opacity="0.6" filter="url(#b1)"/>
</g>
<g clip-path="url(#c53)">
<rect x="480.0" y="629.4" width="37.5" height="41.9" filter="url(#m4)"/>
<ellipse cx="498.5" cy="653" rx="9.5" ry="12.5" transform="rotate(10 498.5 653)" fill="#62902e" opacity="0.8" filter="url(#b15)"/>
<ellipse cx="501" cy="654" rx="5" ry="8" transform="rotate(10 501 654)" fill="#80aa38" opacity="0.45" filter="url(#b15)"/>
</g>
<rect x="74.1" y="132.2" width="3" height="3" fill="#2828b0"/>
<rect x="186.8" y="131.6" width="3" height="3" fill="#2828b0"/>
<rect x="433.3" y="132.4" width="3" height="3" fill="#2828b0"/>
<rect x="434.3" y="706.4" width="3" height="3" fill="#2828b0"/>
<rect x="84.4" y="87.5" width="13.10" height="17.10" fill="none" stroke="#666" stroke-width="0.9"/><rect x="97.5" y="87.5" width="16.80" height="17.10" fill="none" stroke="#666" stroke-width="0.9"/><rect x="82.8" y="182.8" width="12.60" height="17.30" fill="none" stroke="#333" stroke-width="0.9"/><rect x="95.4" y="182.8" width="20.50" height="17.30" fill="none" stroke="#333" stroke-width="0.9"/><rect x="329.2" y="90.1" width="14.90" height="23.20" fill="none" stroke="#333" stroke-width="0.9"/><rect x="345.4" y="89.1" width="20.70" height="24.20" fill="none" stroke="#333" stroke-width="0.9"/><rect x="328.3" y="186.7" width="15.10" height="23.10" fill="none" stroke="#333" stroke-width="0.9"/><rect x="344.6" y="185.6" width="21.00" height="24.20" fill="none" stroke="#333" stroke-width="0.9"/><rect x="129.6" y="308.3" width="23.90" height="40.00" fill="none" stroke="#444" stroke-width="0.9"/><line x1="129.6" y1="325.5" x2="153.5" y2="325.5" stroke="#444" stroke-width="0.9"/><rect x="129.2" y="403.5" width="23.50" height="40.50" fill="none" stroke="#444" stroke-width="0.9"/><line x1="129.2" y1="420.3" x2="152.7" y2="420.3" stroke="#444" stroke-width="0.9"/><rect x="371.3" y="305.4" width="22.80" height="40.10" fill="none" stroke="#444" stroke-width="0.9"/><line x1="371.3" y1="322.4" x2="394.1" y2="322.4" stroke="#444" stroke-width="0.9"/><rect x="371" y="400.2" width="23.40" height="39.70" fill="none" stroke="#444" stroke-width="0.9"/><line x1="371" y1="417" x2="394.4" y2="417" stroke="#444" stroke-width="0.9"/><rect x="112.7" y="539" width="33.50" height="33.10" fill="none" stroke="#777" stroke-width="0.9"/><rect x="113.2" y="636.4" width="36.00" height="33.90" fill="none" stroke="#555" stroke-width="0.9"/><rect x="360.7" y="532.4" width="34.70" height="43.50" fill="none" stroke="#777" stroke-width="0.9"/><rect x="360.7" y="631.4" width="34.70" height="43.00" fill="none" stroke="#777" stroke-width="0.9"/>
<text x="152.1" y="604.4" font-size="6.4" font-weight="normal" text-anchor="start" fill="#777" textLength="7.2" lengthAdjust="spacingAndGlyphs" >P3</text>
<text x="152.1" y="703.6" font-size="6.4" font-weight="normal" text-anchor="start" fill="#777" textLength="7.2" lengthAdjust="spacingAndGlyphs" >P3</text>
<text x="402.3" y="604.4" font-size="6.4" font-weight="normal" text-anchor="start" fill="#777" textLength="7.2" lengthAdjust="spacingAndGlyphs" >P3</text>
<text x="402.3" y="703.6" font-size="6.4" font-weight="normal" text-anchor="start" fill="#777" textLength="7.2" lengthAdjust="spacingAndGlyphs" >P3</text>
<rect x="78.6" y="51.8" width="78.60" height="78.60" fill="none" stroke="#4a4a4a" stroke-width="1" />
<path d="M80.6 131.0v1.8M82.6 131.0v1.8M84.6 131.0v1.8M86.6 131.0v1.8M88.1 131.0v1.8M89.6 131.0v1.8M91.1 131.0v1.8M92.6 131.0v1.8M96.1 131.0v3.0M101.7 131.0v1.8M104.9 131.0v1.8M107.2 131.0v1.8M109.0 131.0v1.8M110.5 131.0v1.8M111.7 131.0v1.8M112.8 131.0v1.8M113.8 131.0v1.8M114.6 131.0v3.0M120.2 131.0v1.8M123.4 131.0v1.8M125.7 131.0v1.8M127.5 131.0v1.8M129.0 131.0v1.8M130.2 131.0v1.8M131.3 131.0v1.8M132.3 131.0v1.8M133.1 131.0v3.0M138.5 131.0v1.8M141.7 131.0v1.8M143.9 131.0v1.8M145.7 131.0v1.8M147.1 131.0v1.8M148.3 131.0v1.8M149.4 131.0v1.8M150.3 131.0v1.8M151.1 131.0v3.0M156.7 131.0v1.8M78.0 58.8h-3.0M78.0 60.8h-1.6M78.0 62.8h-1.6M78.0 64.8h-1.6M78.0 66.8h-1.6M78.0 68.8h-1.6M78.0 70.8h-1.6M78.0 72.8h-1.6M78.0 74.8h-1.6M78.0 76.8h-3.0M78.0 78.8h-1.6M78.0 80.8h-1.6M78.0 82.8h-1.6M78.0 84.8h-1.6M78.0 86.8h-1.6M78.0 88.8h-1.6M78.0 90.8h-1.6M78.0 92.8h-1.6M78.0 94.8h-3.0M78.0 96.8h-1.6M78.0 98.8h-1.6M78.0 100.8h-1.6M78.0 102.8h-1.6M78.0 104.8h-1.6M78.0 106.8h-1.6M78.0 108.8h-1.6M78.0 110.8h-1.6M78.0 112.8h-3.0M78.0 114.8h-1.6M78.0 116.8h-1.6M78.0 118.8h-1.6M78.0 120.8h-1.6M78.0 122.8h-1.6M78.0 124.8h-1.6M78.0 126.8h-1.6M78.0 128.8h-1.6M78.0 128.4h-1.6M78.0 125.4h-1.6M78.0 122.4h-1.6M78.0 119.9h-1.6M78.0 117.4h-1.6" stroke="#222" stroke-width="0.9" fill="none"/>
<g font-size="4.6" fill="#1a1a1a" font-weight="bold"><text x="75.1" y="141.4" font-size="3.6">-10</text><text x="87.1" y="139.9">0</text><text x="92.9" y="139.9">10<tspan dy="-1.6" font-size="3.4">2</tspan></text><text x="111.4" y="139.9">10<tspan dy="-1.6" font-size="3.4">3</tspan></text><text x="129.9" y="139.9">10<tspan dy="-1.6" font-size="3.4">4</tspan></text><text x="147.9" y="139.9">10<tspan dy="-1.6" font-size="3.4">5</tspan></text><text x="74.4" y="62.3" transform="rotate(-90 74.4 62.3)">10<tspan dy="-1.6" font-size="3.2">5</tspan></text><text x="74.4" y="80.3" transform="rotate(-90 74.4 80.3)">10<tspan dy="-1.6" font-size="3.2">4</tspan></text><text x="74.4" y="98.3" transform="rotate(-90 74.4 98.3)">10<tspan dy="-1.6" font-size="3.2">3</tspan></text><text x="74.4" y="116.3" transform="rotate(-90 74.4 116.3)">10<tspan dy="-1.6" font-size="3.2">2</tspan></text></g>
<rect x="79.6" y="148.4" width="79.10" height="77.80" fill="none" stroke="#4a4a4a" stroke-width="1" />
<path d="M81.6 226.8v1.8M83.6 226.8v1.8M85.6 226.8v1.8M87.6 226.8v1.8M89.1 226.8v1.8M90.6 226.8v1.8M92.1 226.8v1.8M93.6 226.8v1.8M97.1 226.8v3.0M102.7 226.8v1.8M105.9 226.8v1.8M108.2 226.8v1.8M110.0 226.8v1.8M111.5 226.8v1.8M112.7 226.8v1.8M113.8 226.8v1.8M114.8 226.8v1.8M115.6 226.8v3.0M121.2 226.8v1.8M124.4 226.8v1.8M126.7 226.8v1.8M128.5 226.8v1.8M130.0 226.8v1.8M131.2 226.8v1.8M132.3 226.8v1.8M133.3 226.8v1.8M134.1 226.8v3.0M139.5 226.8v1.8M142.7 226.8v1.8M144.9 226.8v1.8M146.7 226.8v1.8M148.1 226.8v1.8M149.3 226.8v1.8M150.4 226.8v1.8M151.3 226.8v1.8M152.1 226.8v3.0M157.7 226.8v1.8M79.0 155.4h-3.0M79.0 157.4h-1.6M79.0 159.4h-1.6M79.0 161.4h-1.6M79.0 163.4h-1.6M79.0 165.4h-1.6M79.0 167.4h-1.6M79.0 169.4h-1.6M79.0 171.4h-1.6M79.0 173.4h-3.0M79.0 175.4h-1.6M79.0 177.4h-1.6M79.0 179.4h-1.6M79.0 181.4h-1.6M79.0 183.4h-1.6M79.0 185.4h-1.6M79.0 187.4h-1.6M79.0 189.4h-1.6M79.0 191.4h-3.0M79.0 193.4h-1.6M79.0 195.4h-1.6M79.0 197.4h-1.6M79.0 199.4h-1.6M79.0 201.4h-1.6M79.0 203.4h-1.6M79.0 205.4h-1.6M79.0 207.4h-1.6M79.0 209.4h-3.0M79.0 211.4h-1.6M79.0 213.4h-1.6M79.0 215.4h-1.6M79.0 217.4h-1.6M79.0 219.4h-1.6M79.0 221.4h-1.6M79.0 223.4h-1.6M79.0 225.4h-1.6M79.0 224.2h-1.6M79.0 221.2h-1.6M79.0 218.2h-1.6M79.0 215.7h-1.6M79.0 213.2h-1.6" stroke="#222" stroke-width="0.9" fill="none"/>
<g font-size="4.6" fill="#1a1a1a" font-weight="bold"><text x="76.1" y="237.2" font-size="3.6">-10</text><text x="88.1" y="235.7">0</text><text x="93.9" y="235.7">10<tspan dy="-1.6" font-size="3.4">2</tspan></text><text x="112.4" y="235.7">10<tspan dy="-1.6" font-size="3.4">3</tspan></text><text x="130.9" y="235.7">10<tspan dy="-1.6" font-size="3.4">4</tspan></text><text x="148.9" y="235.7">10<tspan dy="-1.6" font-size="3.4">5</tspan></text><text x="75.4" y="158.9" transform="rotate(-90 75.4 158.9)">10<tspan dy="-1.6" font-size="3.2">5</tspan></text><text x="75.4" y="176.9" transform="rotate(-90 75.4 176.9)">10<tspan dy="-1.6" font-size="3.2">4</tspan></text><text x="75.4" y="194.9" transform="rotate(-90 75.4 194.9)">10<tspan dy="-1.6" font-size="3.2">3</tspan></text><text x="75.4" y="212.9" transform="rotate(-90 75.4 212.9)">10<tspan dy="-1.6" font-size="3.2">2</tspan></text></g>
<rect x="191.3" y="52.3" width="78.20" height="77.50" fill="none" stroke="#4a4a4a" stroke-width="1" />
<path d="M193.3 130.4v1.8M195.3 130.4v1.8M197.3 130.4v1.8M199.3 130.4v1.8M200.8 130.4v1.8M202.3 130.4v1.8M203.8 130.4v1.8M205.3 130.4v1.8M208.8 130.4v3.0M214.4 130.4v1.8M217.6 130.4v1.8M219.9 130.4v1.8M221.7 130.4v1.8M223.2 130.4v1.8M224.4 130.4v1.8M225.5 130.4v1.8M226.5 130.4v1.8M227.3 130.4v3.0M232.9 130.4v1.8M236.1 130.4v1.8M238.4 130.4v1.8M240.2 130.4v1.8M241.7 130.4v1.8M242.9 130.4v1.8M244.0 130.4v1.8M245.0 130.4v1.8M245.8 130.4v3.0M251.2 130.4v1.8M254.4 130.4v1.8M256.6 130.4v1.8M258.4 130.4v1.8M259.8 130.4v1.8M261.0 130.4v1.8M262.1 130.4v1.8M263.0 130.4v1.8M263.8 130.4v3.0M190.7 129.8h-3.0M190.7 126.8h-1.8M190.7 123.8h-1.8M190.7 120.9h-1.8M190.7 117.9h-1.8M190.7 114.9h-3.0M190.7 111.9h-1.8M190.7 108.9h-1.8M190.7 106.0h-1.8M190.7 103.0h-1.8M190.7 100.0h-3.0M190.7 97.0h-1.8M190.7 94.0h-1.8M190.7 91.1h-1.8M190.7 88.1h-1.8M190.7 85.1h-3.0M190.7 82.1h-1.8M190.7 79.1h-1.8M190.7 76.1h-1.8M190.7 73.2h-1.8M190.7 70.2h-3.0M190.7 67.2h-1.8M190.7 64.2h-1.8M190.7 61.2h-1.8M190.7 58.3h-1.8M190.7 55.3h-3.0M190.7 52.3h-1.8" stroke="#222" stroke-width="0.9" fill="none"/>
<g font-size="4.6" fill="#1a1a1a" font-weight="bold"><text x="187.8" y="140.8" font-size="3.6">-10</text><text x="199.8" y="139.3">0</text><text x="205.6" y="139.3">10<tspan dy="-1.6" font-size="3.4">2</tspan></text><text x="224.1" y="139.3">10<tspan dy="-1.6" font-size="3.4">3</tspan></text><text x="242.6" y="139.3">10<tspan dy="-1.6" font-size="3.4">4</tspan></text><text x="260.6" y="139.3">10<tspan dy="-1.6" font-size="3.4">5</tspan></text><text x="187.3" y="131.3" font-size="5.2" transform="rotate(-90 187.3 131.3)">0</text><text x="187.3" y="116.4" font-size="5.2" transform="rotate(-90 187.3 116.4)">5</text><text x="187.3" y="101.5" font-size="5.2" transform="rotate(-90 187.3 101.5)">10</text><text x="187.3" y="86.6" font-size="5.2" transform="rotate(-90 187.3 86.6)">15</text><text x="187.3" y="71.7" font-size="5.2" transform="rotate(-90 187.3 71.7)">20</text><text x="187.3" y="56.8" font-size="5.2" transform="rotate(-90 187.3 56.8)">25</text></g>
<rect x="191.4" y="149.1" width="78.40" height="77.90" fill="none" stroke="#4a4a4a" stroke-width="1" />
<path d="M193.4 227.6v1.8M195.4 227.6v1.8M197.4 227.6v1.8M199.4 227.6v1.8M200.9 227.6v1.8M202.4 227.6v1.8M203.9 227.6v1.8M205.4 227.6v1.8M208.9 227.6v3.0M214.5 227.6v1.8M217.7 227.6v1.8M220.0 227.6v1.8M221.8 227.6v1.8M223.3 227.6v1.8M224.5 227.6v1.8M225.6 227.6v1.8M226.6 227.6v1.8M227.4 227.6v3.0M233.0 227.6v1.8M236.2 227.6v1.8M238.5 227.6v1.8M240.3 227.6v1.8M241.8 227.6v1.8M243.0 227.6v1.8M244.1 227.6v1.8M245.1 227.6v1.8M245.9 227.6v3.0M251.3 227.6v1.8M254.5 227.6v1.8M256.7 227.6v1.8M258.5 227.6v1.8M259.9 227.6v1.8M261.1 227.6v1.8M262.2 227.6v1.8M263.1 227.6v1.8M263.9 227.6v3.0M190.8 227.0h-3.0M190.8 224.0h-1.8M190.8 221.0h-1.8M190.8 218.0h-1.8M190.8 215.0h-1.8M190.8 212.0h-3.0M190.8 209.0h-1.8M190.8 206.0h-1.8M190.8 203.0h-1.8M190.8 200.0h-1.8M190.8 197.0h-3.0M190.8 194.0h-1.8M190.8 191.0h-1.8M190.8 188.1h-1.8M190.8 185.1h-1.8M190.8 182.1h-3.0M190.8 179.1h-1.8M190.8 176.1h-1.8M190.8 173.1h-1.8M190.8 170.1h-1.8M190.8 167.1h-3.0M190.8 164.1h-1.8M190.8 161.1h-1.8M190.8 158.1h-1.8M190.8 155.1h-1.8M190.8 152.1h-3.0M190.8 149.1h-1.8" stroke="#222" stroke-width="0.9" fill="none"/>
<g font-size="4.6" fill="#1a1a1a" font-weight="bold"><text x="187.9" y="238.0" font-size="3.6">-10</text><text x="199.9" y="236.5">0</text><text x="205.7" y="236.5">10<tspan dy="-1.6" font-size="3.4">2</tspan></text><text x="224.2" y="236.5">10<tspan dy="-1.6" font-size="3.4">3</tspan></text><text x="242.7" y="236.5">10<tspan dy="-1.6" font-size="3.4">4</tspan></text><text x="260.7" y="236.5">10<tspan dy="-1.6" font-size="3.4">5</tspan></text><text x="187.4" y="228.5" font-size="5.2" transform="rotate(-90 187.4 228.5)">0</text><text x="187.4" y="213.5" font-size="5.2" transform="rotate(-90 187.4 213.5)">5</text><text x="187.4" y="198.5" font-size="5.2" transform="rotate(-90 187.4 198.5)">10</text><text x="187.4" y="183.6" font-size="5.2" transform="rotate(-90 187.4 183.6)">15</text><text x="187.4" y="168.6" font-size="5.2" transform="rotate(-90 187.4 168.6)">20</text><text x="187.4" y="153.6" font-size="5.2" transform="rotate(-90 187.4 153.6)">25</text></g>
<rect x="328.8" y="52.2" width="78.20" height="77.60" fill="none" stroke="#4a4a4a" stroke-width="1" />
<path d="M330.8 130.4v1.8M332.8 130.4v1.8M334.8 130.4v1.8M336.8 130.4v1.8M338.3 130.4v1.8M339.8 130.4v1.8M341.3 130.4v1.8M342.8 130.4v1.8M346.3 130.4v3.0M351.9 130.4v1.8M355.1 130.4v1.8M357.4 130.4v1.8M359.2 130.4v1.8M360.7 130.4v1.8M361.9 130.4v1.8M363.0 130.4v1.8M364.0 130.4v1.8M364.8 130.4v3.0M370.4 130.4v1.8M373.6 130.4v1.8M375.9 130.4v1.8M377.7 130.4v1.8M379.2 130.4v1.8M380.4 130.4v1.8M381.5 130.4v1.8M382.5 130.4v1.8M383.3 130.4v3.0M388.7 130.4v1.8M391.9 130.4v1.8M394.1 130.4v1.8M395.9 130.4v1.8M397.3 130.4v1.8M398.5 130.4v1.8M399.6 130.4v1.8M400.5 130.4v1.8M401.3 130.4v3.0M328.2 59.2h-3.0M328.2 61.2h-1.6M328.2 63.2h-1.6M328.2 65.2h-1.6M328.2 67.2h-1.6M328.2 69.2h-1.6M328.2 71.2h-1.6M328.2 73.2h-1.6M328.2 75.2h-1.6M328.2 77.2h-3.0M328.2 79.2h-1.6M328.2 81.2h-1.6M328.2 83.2h-1.6M328.2 85.2h-1.6M328.2 87.2h-1.6M328.2 89.2h-1.6M328.2 91.2h-1.6M328.2 93.2h-1.6M328.2 95.2h-3.0M328.2 97.2h-1.6M328.2 99.2h-1.6M328.2 101.2h-1.6M328.2 103.2h-1.6M328.2 105.2h-1.6M328.2 107.2h-1.6M328.2 109.2h-1.6M328.2 111.2h-1.6M328.2 113.2h-3.0M328.2 115.2h-1.6M328.2 117.2h-1.6M328.2 119.2h-1.6M328.2 121.2h-1.6M328.2 123.2h-1.6M328.2 125.2h-1.6M328.2 127.2h-1.6M328.2 129.2h-1.6M328.2 127.8h-1.6M328.2 124.8h-1.6M328.2 121.8h-1.6M328.2 119.3h-1.6M328.2 116.8h-1.6" stroke="#222" stroke-width="0.9" fill="none"/>
<g font-size="4.6" fill="#1a1a1a" font-weight="bold"><text x="325.3" y="140.8" font-size="3.6">-10</text><text x="337.3" y="139.3">0</text><text x="343.1" y="139.3">10<tspan dy="-1.6" font-size="3.4">2</tspan></text><text x="361.6" y="139.3">10<tspan dy="-1.6" font-size="3.4">3</tspan></text><text x="380.1" y="139.3">10<tspan dy="-1.6" font-size="3.4">4</tspan></text><text x="398.1" y="139.3">10<tspan dy="-1.6" font-size="3.4">5</tspan></text><text x="324.6" y="62.7" transform="rotate(-90 324.6 62.7)">10<tspan dy="-1.6" font-size="3.2">5</tspan></text><text x="324.6" y="80.7" transform="rotate(-90 324.6 80.7)">10<tspan dy="-1.6" font-size="3.2">4</tspan></text><text x="324.6" y="98.7" transform="rotate(-90 324.6 98.7)">10<tspan dy="-1.6" font-size="3.2">3</tspan></text><text x="324.6" y="116.7" transform="rotate(-90 324.6 116.7)">10<tspan dy="-1.6" font-size="3.2">2</tspan></text></g>
<rect x="328.3" y="148.6" width="78.60" height="77.20" fill="none" stroke="#4a4a4a" stroke-width="1" />
<path d="M330.3 226.4v1.8M332.3 226.4v1.8M334.3 226.4v1.8M336.3 226.4v1.8M337.8 226.4v1.8M339.3 226.4v1.8M340.8 226.4v1.8M342.3 226.4v1.8M345.8 226.4v3.0M351.4 226.4v1.8M354.6 226.4v1.8M356.9 226.4v1.8M358.7 226.4v1.8M360.2 226.4v1.8M361.4 226.4v1.8M362.5 226.4v1.8M363.5 226.4v1.8M364.3 226.4v3.0M369.9 226.4v1.8M373.1 226.4v1.8M375.4 226.4v1.8M377.2 226.4v1.8M378.7 226.4v1.8M379.9 226.4v1.8M381.0 226.4v1.8M382.0 226.4v1.8M382.8 226.4v3.0M388.2 226.4v1.8M391.4 226.4v1.8M393.6 226.4v1.8M395.4 226.4v1.8M396.8 226.4v1.8M398.0 226.4v1.8M399.1 226.4v1.8M400.0 226.4v1.8M400.8 226.4v3.0M406.4 226.4v1.8M327.7 155.6h-3.0M327.7 157.6h-1.6M327.7 159.6h-1.6M327.7 161.6h-1.6M327.7 163.6h-1.6M327.7 165.6h-1.6M327.7 167.6h-1.6M327.7 169.6h-1.6M327.7 171.6h-1.6M327.7 173.6h-3.0M327.7 175.6h-1.6M327.7 177.6h-1.6M327.7 179.6h-1.6M327.7 181.6h-1.6M327.7 183.6h-1.6M327.7 185.6h-1.6M327.7 187.6h-1.6M327.7 189.6h-1.6M327.7 191.6h-3.0M327.7 193.6h-1.6M327.7 195.6h-1.6M327.7 197.6h-1.6M327.7 199.6h-1.6M327.7 201.6h-1.6M327.7 203.6h-1.6M327.7 205.6h-1.6M327.7 207.6h-1.6M327.7 209.6h-3.0M327.7 211.6h-1.6M327.7 213.6h-1.6M327.7 215.6h-1.6M327.7 217.6h-1.6M327.7 219.6h-1.6M327.7 221.6h-1.6M327.7 223.6h-1.6M327.7 223.8h-1.6M327.7 220.8h-1.6M327.7 217.8h-1.6M327.7 215.3h-1.6M327.7 212.8h-1.6" stroke="#222" stroke-width="0.9" fill="none"/>
<g font-size="4.6" fill="#1a1a1a" font-weight="bold"><text x="324.8" y="236.8" font-size="3.6">-10</text><text x="336.8" y="235.3">0</text><text x="342.6" y="235.3">10<tspan dy="-1.6" font-size="3.4">2</tspan></text><text x="361.1" y="235.3">10<tspan dy="-1.6" font-size="3.4">3</tspan></text><text x="379.6" y="235.3">10<tspan dy="-1.6" font-size="3.4">4</tspan></text><text x="397.6" y="235.3">10<tspan dy="-1.6" font-size="3.4">5</tspan></text><text x="324.1" y="159.1" transform="rotate(-90 324.1 159.1)">10<tspan dy="-1.6" font-size="3.2">5</tspan></text><text x="324.1" y="177.1" transform="rotate(-90 324.1 177.1)">10<tspan dy="-1.6" font-size="3.2">4</tspan></text><text x="324.1" y="195.1" transform="rotate(-90 324.1 195.1)">10<tspan dy="-1.6" font-size="3.2">3</tspan></text><text x="324.1" y="213.1" transform="rotate(-90 324.1 213.1)">10<tspan dy="-1.6" font-size="3.2">2</tspan></text></g>
<rect x="437.8" y="52.6" width="78.00" height="78.00" fill="none" stroke="#4a4a4a" stroke-width="1" />
<path d="M439.8 131.2v1.8M441.8 131.2v1.8M443.8 131.2v1.8M445.8 131.2v1.8M447.3 131.2v1.8M448.8 131.2v1.8M450.3 131.2v1.8M451.8 131.2v1.8M455.3 131.2v3.0M460.9 131.2v1.8M464.1 131.2v1.8M466.4 131.2v1.8M468.2 131.2v1.8M469.7 131.2v1.8M470.9 131.2v1.8M472.0 131.2v1.8M473.0 131.2v1.8M473.8 131.2v3.0M479.4 131.2v1.8M482.6 131.2v1.8M484.9 131.2v1.8M486.7 131.2v1.8M488.2 131.2v1.8M489.4 131.2v1.8M490.5 131.2v1.8M491.5 131.2v1.8M492.3 131.2v3.0M497.7 131.2v1.8M500.9 131.2v1.8M503.1 131.2v1.8M504.9 131.2v1.8M506.3 131.2v1.8M507.5 131.2v1.8M508.6 131.2v1.8M509.5 131.2v1.8M510.3 131.2v3.0M437.2 130.6h-3.0M437.2 127.6h-1.8M437.2 124.6h-1.8M437.2 121.6h-1.8M437.2 118.6h-1.8M437.2 115.6h-3.0M437.2 112.6h-1.8M437.2 109.6h-1.8M437.2 106.6h-1.8M437.2 103.6h-1.8M437.2 100.6h-3.0M437.2 97.6h-1.8M437.2 94.6h-1.8M437.2 91.6h-1.8M437.2 88.6h-1.8M437.2 85.6h-3.0M437.2 82.6h-1.8M437.2 79.6h-1.8M437.2 76.6h-1.8M437.2 73.6h-1.8M437.2 70.6h-3.0M437.2 67.6h-1.8M437.2 64.6h-1.8M437.2 61.6h-1.8M437.2 58.6h-1.8M437.2 55.6h-3.0M437.2 52.6h-1.8" stroke="#222" stroke-width="0.9" fill="none"/>
<g font-size="4.6" fill="#1a1a1a" font-weight="bold"><text x="434.3" y="141.6" font-size="3.6">-10</text><text x="446.3" y="140.1">0</text><text x="452.1" y="140.1">10<tspan dy="-1.6" font-size="3.4">2</tspan></text><text x="470.6" y="140.1">10<tspan dy="-1.6" font-size="3.4">3</tspan></text><text x="489.1" y="140.1">10<tspan dy="-1.6" font-size="3.4">4</tspan></text><text x="507.1" y="140.1">10<tspan dy="-1.6" font-size="3.4">5</tspan></text><text x="433.8" y="132.1" font-size="5.2" transform="rotate(-90 433.8 132.1)">0</text><text x="433.8" y="117.1" font-size="5.2" transform="rotate(-90 433.8 117.1)">5</text><text x="433.8" y="102.1" font-size="5.2" transform="rotate(-90 433.8 102.1)">10</text><text x="433.8" y="87.1" font-size="5.2" transform="rotate(-90 433.8 87.1)">15</text><text x="433.8" y="72.1" font-size="5.2" transform="rotate(-90 433.8 72.1)">20</text><text x="433.8" y="57.1" font-size="5.2" transform="rotate(-90 433.8 57.1)">25</text></g>
<rect x="437.5" y="149.5" width="77.90" height="77.50" fill="none" stroke="#4a4a4a" stroke-width="1" />
<path d="M439.5 227.6v1.8M441.5 227.6v1.8M443.5 227.6v1.8M445.5 227.6v1.8M447.0 227.6v1.8M448.5 227.6v1.8M450.0 227.6v1.8M451.5 227.6v1.8M455.0 227.6v3.0M460.6 227.6v1.8M463.8 227.6v1.8M466.1 227.6v1.8M467.9 227.6v1.8M469.4 227.6v1.8M470.6 227.6v1.8M471.7 227.6v1.8M472.7 227.6v1.8M473.5 227.6v3.0M479.1 227.6v1.8M482.3 227.6v1.8M484.6 227.6v1.8M486.4 227.6v1.8M487.9 227.6v1.8M489.1 227.6v1.8M490.2 227.6v1.8M491.2 227.6v1.8M492.0 227.6v3.0M497.4 227.6v1.8M500.6 227.6v1.8M502.8 227.6v1.8M504.6 227.6v1.8M506.0 227.6v1.8M507.2 227.6v1.8M508.3 227.6v1.8M509.2 227.6v1.8M510.0 227.6v3.0M436.9 227.0h-3.0M436.9 224.0h-1.8M436.9 221.0h-1.8M436.9 218.1h-1.8M436.9 215.1h-1.8M436.9 212.1h-3.0M436.9 209.1h-1.8M436.9 206.1h-1.8M436.9 203.2h-1.8M436.9 200.2h-1.8M436.9 197.2h-3.0M436.9 194.2h-1.8M436.9 191.2h-1.8M436.9 188.2h-1.8M436.9 185.3h-1.8M436.9 182.3h-3.0M436.9 179.3h-1.8M436.9 176.3h-1.8M436.9 173.3h-1.8M436.9 170.4h-1.8M436.9 167.4h-3.0M436.9 164.4h-1.8M436.9 161.4h-1.8M436.9 158.4h-1.8M436.9 155.5h-1.8M436.9 152.5h-3.0M436.9 149.5h-1.8" stroke="#222" stroke-width="0.9" fill="none"/>
<g font-size="4.6" fill="#1a1a1a" font-weight="bold"><text x="434.0" y="238.0" font-size="3.6">-10</text><text x="446.0" y="236.5">0</text><text x="451.8" y="236.5">10<tspan dy="-1.6" font-size="3.4">2</tspan></text><text x="470.3" y="236.5">10<tspan dy="-1.6" font-size="3.4">3</tspan></text><text x="488.8" y="236.5">10<tspan dy="-1.6" font-size="3.4">4</tspan></text><text x="506.8" y="236.5">10<tspan dy="-1.6" font-size="3.4">5</tspan></text><text x="433.5" y="228.5" font-size="5.2" transform="rotate(-90 433.5 228.5)">0</text><text x="433.5" y="213.6" font-size="5.2" transform="rotate(-90 433.5 213.6)">5</text><text x="433.5" y="198.7" font-size="5.2" transform="rotate(-90 433.5 198.7)">10</text><text x="433.5" y="183.8" font-size="5.2" transform="rotate(-90 433.5 183.8)">15</text><text x="433.5" y="168.9" font-size="5.2" transform="rotate(-90 433.5 168.9)">20</text><text x="433.5" y="154.0" font-size="5.2" transform="rotate(-90 433.5 154.0)">25</text></g>
<rect x="81.5" y="291.1" width="79.30" height="76.10" fill="none" stroke="#4a4a4a" stroke-width="1" />
<path d="M83.5 367.8v1.8M85.5 367.8v1.8M87.5 367.8v1.8M89.5 367.8v1.8M91.0 367.8v1.8M92.5 367.8v1.8M94.0 367.8v1.8M95.5 367.8v1.8M99.0 367.8v3.0M104.6 367.8v1.8M107.8 367.8v1.8M110.1 367.8v1.8M111.9 367.8v1.8M113.4 367.8v1.8M114.6 367.8v1.8M115.7 367.8v1.8M116.7 367.8v1.8M117.5 367.8v3.0M123.1 367.8v1.8M126.3 367.8v1.8M128.6 367.8v1.8M130.4 367.8v1.8M131.9 367.8v1.8M133.1 367.8v1.8M134.2 367.8v1.8M135.2 367.8v1.8M136.0 367.8v3.0M141.4 367.8v1.8M144.6 367.8v1.8M146.8 367.8v1.8M148.6 367.8v1.8M150.0 367.8v1.8M151.2 367.8v1.8M152.3 367.8v1.8M153.2 367.8v1.8M154.0 367.8v3.0M159.6 367.8v1.8M80.9 298.1h-3.0M80.9 300.1h-1.6M80.9 302.1h-1.6M80.9 304.1h-1.6M80.9 306.1h-1.6M80.9 308.1h-1.6M80.9 310.1h-1.6M80.9 312.1h-1.6M80.9 314.1h-1.6M80.9 316.1h-3.0M80.9 318.1h-1.6M80.9 320.1h-1.6M80.9 322.1h-1.6M80.9 324.1h-1.6M80.9 326.1h-1.6M80.9 328.1h-1.6M80.9 330.1h-1.6M80.9 332.1h-1.6M80.9 334.1h-3.0M80.9 336.1h-1.6M80.9 338.1h-1.6M80.9 340.1h-1.6M80.9 342.1h-1.6M80.9 344.1h-1.6M80.9 346.1h-1.6M80.9 348.1h-1.6M80.9 350.1h-1.6M80.9 352.1h-3.0M80.9 354.1h-1.6M80.9 356.1h-1.6M80.9 358.1h-1.6M80.9 360.1h-1.6M80.9 362.1h-1.6M80.9 364.1h-1.6M80.9 366.1h-1.6M80.9 365.2h-1.6M80.9 362.2h-1.6M80.9 359.2h-1.6M80.9 356.7h-1.6M80.9 354.2h-1.6" stroke="#222" stroke-width="0.9" fill="none"/>
<g font-size="4.6" fill="#1a1a1a" font-weight="bold"><text x="78.0" y="378.2" font-size="3.6">-10</text><text x="90.0" y="376.7">0</text><text x="95.8" y="376.7">10<tspan dy="-1.6" font-size="3.4">2</tspan></text><text x="114.3" y="376.7">10<tspan dy="-1.6" font-size="3.4">3</tspan></text><text x="132.8" y="376.7">10<tspan dy="-1.6" font-size="3.4">4</tspan></text><text x="150.8" y="376.7">10<tspan dy="-1.6" font-size="3.4">5</tspan></text><text x="77.3" y="301.6" transform="rotate(-90 77.3 301.6)">10<tspan dy="-1.6" font-size="3.2">5</tspan></text><text x="77.3" y="319.6" transform="rotate(-90 77.3 319.6)">10<tspan dy="-1.6" font-size="3.2">4</tspan></text><text x="77.3" y="337.6" transform="rotate(-90 77.3 337.6)">10<tspan dy="-1.6" font-size="3.2">3</tspan></text><text x="77.3" y="355.6" transform="rotate(-90 77.3 355.6)">10<tspan dy="-1.6" font-size="3.2">2</tspan></text></g>
<rect x="81.5" y="385.4" width="79.30" height="76.10" fill="none" stroke="#4a4a4a" stroke-width="1" />
<path d="M83.5 462.1v1.8M85.5 462.1v1.8M87.5 462.1v1.8M89.5 462.1v1.8M91.0 462.1v1.8M92.5 462.1v1.8M94.0 462.1v1.8M95.5 462.1v1.8M99.0 462.1v3.0M104.6 462.1v1.8M107.8 462.1v1.8M110.1 462.1v1.8M111.9 462.1v1.8M113.4 462.1v1.8M114.6 462.1v1.8M115.7 462.1v1.8M116.7 462.1v1.8M117.5 462.1v3.0M123.1 462.1v1.8M126.3 462.1v1.8M128.6 462.1v1.8M130.4 462.1v1.8M131.9 462.1v1.8M133.1 462.1v1.8M134.2 462.1v1.8M135.2 462.1v1.8M136.0 462.1v3.0M141.4 462.1v1.8M144.6 462.1v1.8M146.8 462.1v1.8M148.6 462.1v1.8M150.0 462.1v1.8M151.2 462.1v1.8M152.3 462.1v1.8M153.2 462.1v1.8M154.0 462.1v3.0M159.6 462.1v1.8M80.9 392.4h-3.0M80.9 394.4h-1.6M80.9 396.4h-1.6M80.9 398.4h-1.6M80.9 400.4h-1.6M80.9 402.4h-1.6M80.9 404.4h-1.6M80.9 406.4h-1.6M80.9 408.4h-1.6M80.9 410.4h-3.0M80.9 412.4h-1.6M80.9 414.4h-1.6M80.9 416.4h-1.6M80.9 418.4h-1.6M80.9 420.4h-1.6M80.9 422.4h-1.6M80.9 424.4h-1.6M80.9 426.4h-1.6M80.9 428.4h-3.0M80.9 430.4h-1.6M80.9 432.4h-1.6M80.9 434.4h-1.6M80.9 436.4h-1.6M80.9 438.4h-1.6M80.9 440.4h-1.6M80.9 442.4h-1.6M80.9 444.4h-1.6M80.9 446.4h-3.0M80.9 448.4h-1.6M80.9 450.4h-1.6M80.9 452.4h-1.6M80.9 454.4h-1.6M80.9 456.4h-1.6M80.9 458.4h-1.6M80.9 460.4h-1.6M80.9 459.5h-1.6M80.9 456.5h-1.6M80.9 453.5h-1.6M80.9 451.0h-1.6M80.9 448.5h-1.6" stroke="#222" stroke-width="0.9" fill="none"/>
<g font-size="4.6" fill="#1a1a1a" font-weight="bold"><text x="78.0" y="472.5" font-size="3.6">-10</text><text x="90.0" y="471.0">0</text><text x="95.8" y="471.0">10<tspan dy="-1.6" font-size="3.4">2</tspan></text><text x="114.3" y="471.0">10<tspan dy="-1.6" font-size="3.4">3</tspan></text><text x="132.8" y="471.0">10<tspan dy="-1.6" font-size="3.4">4</tspan></text><text x="150.8" y="471.0">10<tspan dy="-1.6" font-size="3.4">5</tspan></text><text x="77.3" y="395.9" transform="rotate(-90 77.3 395.9)">10<tspan dy="-1.6" font-size="3.2">5</tspan></text><text x="77.3" y="413.9" transform="rotate(-90 77.3 413.9)">10<tspan dy="-1.6" font-size="3.2">4</tspan></text><text x="77.3" y="431.9" transform="rotate(-90 77.3 431.9)">10<tspan dy="-1.6" font-size="3.2">3</tspan></text><text x="77.3" y="449.9" transform="rotate(-90 77.3 449.9)">10<tspan dy="-1.6" font-size="3.2">2</tspan></text></g>
<rect x="194.2" y="291.2" width="79.20" height="74.80" fill="none" stroke="#4a4a4a" stroke-width="1" />
<path d="M196.2 366.6v1.8M198.2 366.6v1.8M200.2 366.6v1.8M202.2 366.6v1.8M203.7 366.6v1.8M205.2 366.6v1.8M206.7 366.6v1.8M208.2 366.6v1.8M211.7 366.6v3.0M217.3 366.6v1.8M220.5 366.6v1.8M222.8 366.6v1.8M224.6 366.6v1.8M226.1 366.6v1.8M227.3 366.6v1.8M228.4 366.6v1.8M229.4 366.6v1.8M230.2 366.6v3.0M235.8 366.6v1.8M239.0 366.6v1.8M241.3 366.6v1.8M243.1 366.6v1.8M244.6 366.6v1.8M245.8 366.6v1.8M246.9 366.6v1.8M247.9 366.6v1.8M248.7 366.6v3.0M254.1 366.6v1.8M257.3 366.6v1.8M259.5 366.6v1.8M261.3 366.6v1.8M262.7 366.6v1.8M263.9 366.6v1.8M265.0 366.6v1.8M265.9 366.6v1.8M266.7 366.6v3.0M272.3 366.6v1.8M193.6 366.0h-3.0M193.6 363.1h-1.8M193.6 360.2h-1.8M193.6 357.4h-1.8M193.6 354.5h-1.8M193.6 351.6h-3.0M193.6 348.7h-1.8M193.6 345.9h-1.8M193.6 343.0h-1.8M193.6 340.1h-1.8M193.6 337.2h-3.0M193.6 334.4h-1.8M193.6 331.5h-1.8M193.6 328.6h-1.8M193.6 325.7h-1.8M193.6 322.8h-3.0M193.6 320.0h-1.8M193.6 317.1h-1.8M193.6 314.2h-1.8M193.6 311.3h-1.8M193.6 308.5h-3.0M193.6 305.6h-1.8M193.6 302.7h-1.8M193.6 299.8h-1.8M193.6 297.0h-1.8M193.6 294.1h-3.0M193.6 291.2h-1.8" stroke="#222" stroke-width="0.9" fill="none"/>
<g font-size="4.6" fill="#1a1a1a" font-weight="bold"><text x="190.7" y="377.0" font-size="3.6">-100</text><text x="205.7" y="375.5">0</text><text x="227.2" y="375.5">10<tspan dy="-1.6" font-size="3.4">3</tspan></text><text x="246.2" y="375.5">10<tspan dy="-1.6" font-size="3.4">4</tspan></text><text x="265.2" y="375.5">10<tspan dy="-1.6" font-size="3.4">5</tspan></text><text x="190.2" y="367.5" font-size="5.2" transform="rotate(-90 190.2 367.5)">0</text><text x="190.2" y="353.1" font-size="5.2" transform="rotate(-90 190.2 353.1)">5</text><text x="190.2" y="338.7" font-size="5.2" transform="rotate(-90 190.2 338.7)">10</text><text x="190.2" y="324.3" font-size="5.2" transform="rotate(-90 190.2 324.3)">15</text><text x="190.2" y="310.0" font-size="5.2" transform="rotate(-90 190.2 310.0)">20</text><text x="190.2" y="295.6" font-size="5.2" transform="rotate(-90 190.2 295.6)">25</text></g>
<rect x="194.2" y="385.3" width="79.20" height="75.50" fill="none" stroke="#4a4a4a" stroke-width="1" />
<path d="M196.2 461.4v1.8M198.2 461.4v1.8M200.2 461.4v1.8M202.2 461.4v1.8M203.7 461.4v1.8M205.2 461.4v1.8M206.7 461.4v1.8M208.2 461.4v1.8M211.7 461.4v3.0M217.3 461.4v1.8M220.5 461.4v1.8M222.8 461.4v1.8M224.6 461.4v1.8M226.1 461.4v1.8M227.3 461.4v1.8M228.4 461.4v1.8M229.4 461.4v1.8M230.2 461.4v3.0M235.8 461.4v1.8M239.0 461.4v1.8M241.3 461.4v1.8M243.1 461.4v1.8M244.6 461.4v1.8M245.8 461.4v1.8M246.9 461.4v1.8M247.9 461.4v1.8M248.7 461.4v3.0M254.1 461.4v1.8M257.3 461.4v1.8M259.5 461.4v1.8M261.3 461.4v1.8M262.7 461.4v1.8M263.9 461.4v1.8M265.0 461.4v1.8M265.9 461.4v1.8M266.7 461.4v3.0M272.3 461.4v1.8M193.6 460.8h-3.0M193.6 457.9h-1.8M193.6 455.0h-1.8M193.6 452.1h-1.8M193.6 449.2h-1.8M193.6 446.3h-3.0M193.6 443.4h-1.8M193.6 440.5h-1.8M193.6 437.6h-1.8M193.6 434.7h-1.8M193.6 431.8h-3.0M193.6 428.9h-1.8M193.6 426.0h-1.8M193.6 423.1h-1.8M193.6 420.1h-1.8M193.6 417.2h-3.0M193.6 414.3h-1.8M193.6 411.4h-1.8M193.6 408.5h-1.8M193.6 405.6h-1.8M193.6 402.7h-3.0M193.6 399.8h-1.8M193.6 396.9h-1.8M193.6 394.0h-1.8M193.6 391.1h-1.8M193.6 388.2h-3.0M193.6 385.3h-1.8" stroke="#222" stroke-width="0.9" fill="none"/>
<g font-size="4.6" fill="#1a1a1a" font-weight="bold"><text x="190.7" y="471.8" font-size="3.6">-100</text><text x="205.7" y="470.3">0</text><text x="227.2" y="470.3">10<tspan dy="-1.6" font-size="3.4">3</tspan></text><text x="246.2" y="470.3">10<tspan dy="-1.6" font-size="3.4">4</tspan></text><text x="265.2" y="470.3">10<tspan dy="-1.6" font-size="3.4">5</tspan></text><text x="190.2" y="462.3" font-size="5.2" transform="rotate(-90 190.2 462.3)">0</text><text x="190.2" y="447.8" font-size="5.2" transform="rotate(-90 190.2 447.8)">5</text><text x="190.2" y="433.3" font-size="5.2" transform="rotate(-90 190.2 433.3)">10</text><text x="190.2" y="418.7" font-size="5.2" transform="rotate(-90 190.2 418.7)">15</text><text x="190.2" y="404.2" font-size="5.2" transform="rotate(-90 190.2 404.2)">20</text><text x="190.2" y="389.7" font-size="5.2" transform="rotate(-90 190.2 389.7)">25</text></g>
<rect x="328.7" y="291.1" width="78.80" height="74.40" fill="none" stroke="#4a4a4a" stroke-width="1" />
<path d="M330.7 366.1v1.8M332.7 366.1v1.8M334.7 366.1v1.8M336.7 366.1v1.8M338.2 366.1v1.8M339.7 366.1v1.8M341.2 366.1v1.8M342.7 366.1v1.8M346.2 366.1v3.0M351.8 366.1v1.8M355.0 366.1v1.8M357.3 366.1v1.8M359.1 366.1v1.8M360.6 366.1v1.8M361.8 366.1v1.8M362.9 366.1v1.8M363.9 366.1v1.8M364.7 366.1v3.0M370.3 366.1v1.8M373.5 366.1v1.8M375.8 366.1v1.8M377.6 366.1v1.8M379.1 366.1v1.8M380.3 366.1v1.8M381.4 366.1v1.8M382.4 366.1v1.8M383.2 366.1v3.0M388.6 366.1v1.8M391.8 366.1v1.8M394.0 366.1v1.8M395.8 366.1v1.8M397.2 366.1v1.8M398.4 366.1v1.8M399.5 366.1v1.8M400.4 366.1v1.8M401.2 366.1v3.0M406.8 366.1v1.8M328.1 298.1h-3.0M328.1 300.1h-1.6M328.1 302.1h-1.6M328.1 304.1h-1.6M328.1 306.1h-1.6M328.1 308.1h-1.6M328.1 310.1h-1.6M328.1 312.1h-1.6M328.1 314.1h-1.6M328.1 316.1h-3.0M328.1 318.1h-1.6M328.1 320.1h-1.6M328.1 322.1h-1.6M328.1 324.1h-1.6M328.1 326.1h-1.6M328.1 328.1h-1.6M328.1 330.1h-1.6M328.1 332.1h-1.6M328.1 334.1h-3.0M328.1 336.1h-1.6M328.1 338.1h-1.6M328.1 340.1h-1.6M328.1 342.1h-1.6M328.1 344.1h-1.6M328.1 346.1h-1.6M328.1 348.1h-1.6M328.1 350.1h-1.6M328.1 352.1h-3.0M328.1 354.1h-1.6M328.1 356.1h-1.6M328.1 358.1h-1.6M328.1 360.1h-1.6M328.1 362.1h-1.6M328.1 364.1h-1.6M328.1 363.5h-1.6M328.1 360.5h-1.6M328.1 357.5h-1.6M328.1 355.0h-1.6M328.1 352.5h-1.6" stroke="#222" stroke-width="0.9" fill="none"/>
<g font-size="4.6" fill="#1a1a1a" font-weight="bold"><text x="325.2" y="376.5" font-size="3.6">-10</text><text x="337.2" y="375.0">0</text><text x="343.0" y="375.0">10<tspan dy="-1.6" font-size="3.4">2</tspan></text><text x="361.5" y="375.0">10<tspan dy="-1.6" font-size="3.4">3</tspan></text><text x="380.0" y="375.0">10<tspan dy="-1.6" font-size="3.4">4</tspan></text><text x="398.0" y="375.0">10<tspan dy="-1.6" font-size="3.4">5</tspan></text><text x="324.5" y="301.6" transform="rotate(-90 324.5 301.6)">10<tspan dy="-1.6" font-size="3.2">5</tspan></text><text x="324.5" y="319.6" transform="rotate(-90 324.5 319.6)">10<tspan dy="-1.6" font-size="3.2">4</tspan></text><text x="324.5" y="337.6" transform="rotate(-90 324.5 337.6)">10<tspan dy="-1.6" font-size="3.2">3</tspan></text><text x="324.5" y="355.6" transform="rotate(-90 324.5 355.6)">10<tspan dy="-1.6" font-size="3.2">2</tspan></text></g>
<rect x="328.7" y="385.4" width="78.50" height="75.70" fill="none" stroke="#4a4a4a" stroke-width="1" />
<path d="M330.7 461.7v1.8M332.7 461.7v1.8M334.7 461.7v1.8M336.7 461.7v1.8M338.2 461.7v1.8M339.7 461.7v1.8M341.2 461.7v1.8M342.7 461.7v1.8M346.2 461.7v3.0M351.8 461.7v1.8M355.0 461.7v1.8M357.3 461.7v1.8M359.1 461.7v1.8M360.6 461.7v1.8M361.8 461.7v1.8M362.9 461.7v1.8M363.9 461.7v1.8M364.7 461.7v3.0M370.3 461.7v1.8M373.5 461.7v1.8M375.8 461.7v1.8M377.6 461.7v1.8M379.1 461.7v1.8M380.3 461.7v1.8M381.4 461.7v1.8M382.4 461.7v1.8M383.2 461.7v3.0M388.6 461.7v1.8M391.8 461.7v1.8M394.0 461.7v1.8M395.8 461.7v1.8M397.2 461.7v1.8M398.4 461.7v1.8M399.5 461.7v1.8M400.4 461.7v1.8M401.2 461.7v3.0M328.1 392.4h-3.0M328.1 394.4h-1.6M328.1 396.4h-1.6M328.1 398.4h-1.6M328.1 400.4h-1.6M328.1 402.4h-1.6M328.1 404.4h-1.6M328.1 406.4h-1.6M328.1 408.4h-1.6M328.1 410.4h-3.0M328.1 412.4h-1.6M328.1 414.4h-1.6M328.1 416.4h-1.6M328.1 418.4h-1.6M328.1 420.4h-1.6M328.1 422.4h-1.6M328.1 424.4h-1.6M328.1 426.4h-1.6M328.1 428.4h-3.0M328.1 430.4h-1.6M328.1 432.4h-1.6M328.1 434.4h-1.6M328.1 436.4h-1.6M328.1 438.4h-1.6M328.1 440.4h-1.6M328.1 442.4h-1.6M328.1 444.4h-1.6M328.1 446.4h-3.0M328.1 448.4h-1.6M328.1 450.4h-1.6M328.1 452.4h-1.6M328.1 454.4h-1.6M328.1 456.4h-1.6M328.1 458.4h-1.6M328.1 460.4h-1.6M328.1 459.1h-1.6M328.1 456.1h-1.6M328.1 453.1h-1.6M328.1 450.6h-1.6M328.1 448.1h-1.6" stroke="#222" stroke-width="0.9" fill="none"/>
<g font-size="4.6" fill="#1a1a1a" font-weight="bold"><text x="325.2" y="472.1" font-size="3.6">-10</text><text x="337.2" y="470.6">0</text><text x="343.0" y="470.6">10<tspan dy="-1.6" font-size="3.4">2</tspan></text><text x="361.5" y="470.6">10<tspan dy="-1.6" font-size="3.4">3</tspan></text><text x="380.0" y="470.6">10<tspan dy="-1.6" font-size="3.4">4</tspan></text><text x="398.0" y="470.6">10<tspan dy="-1.6" font-size="3.4">5</tspan></text><text x="324.5" y="395.9" transform="rotate(-90 324.5 395.9)">10<tspan dy="-1.6" font-size="3.2">5</tspan></text><text x="324.5" y="413.9" transform="rotate(-90 324.5 413.9)">10<tspan dy="-1.6" font-size="3.2">4</tspan></text><text x="324.5" y="431.9" transform="rotate(-90 324.5 431.9)">10<tspan dy="-1.6" font-size="3.2">3</tspan></text><text x="324.5" y="449.9" transform="rotate(-90 324.5 449.9)">10<tspan dy="-1.6" font-size="3.2">2</tspan></text></g>
<rect x="436.6" y="290.5" width="78.10" height="75.90" fill="none" stroke="#4a4a4a" stroke-width="1" />
<path d="M438.6 367.0v1.8M440.6 367.0v1.8M442.6 367.0v1.8M444.6 367.0v1.8M446.1 367.0v1.8M447.6 367.0v1.8M449.1 367.0v1.8M450.6 367.0v1.8M454.1 367.0v3.0M459.7 367.0v1.8M462.9 367.0v1.8M465.2 367.0v1.8M467.0 367.0v1.8M468.5 367.0v1.8M469.7 367.0v1.8M470.8 367.0v1.8M471.8 367.0v1.8M472.6 367.0v3.0M478.2 367.0v1.8M481.4 367.0v1.8M483.7 367.0v1.8M485.5 367.0v1.8M487.0 367.0v1.8M488.2 367.0v1.8M489.3 367.0v1.8M490.3 367.0v1.8M491.1 367.0v3.0M496.5 367.0v1.8M499.7 367.0v1.8M501.9 367.0v1.8M503.7 367.0v1.8M505.1 367.0v1.8M506.3 367.0v1.8M507.4 367.0v1.8M508.3 367.0v1.8M509.1 367.0v3.0M436.0 366.4h-3.0M436.0 363.5h-1.8M436.0 360.6h-1.8M436.0 357.6h-1.8M436.0 354.7h-1.8M436.0 351.8h-3.0M436.0 348.9h-1.8M436.0 346.0h-1.8M436.0 343.0h-1.8M436.0 340.1h-1.8M436.0 337.2h-3.0M436.0 334.3h-1.8M436.0 331.4h-1.8M436.0 328.4h-1.8M436.0 325.5h-1.8M436.0 322.6h-3.0M436.0 319.7h-1.8M436.0 316.8h-1.8M436.0 313.9h-1.8M436.0 310.9h-1.8M436.0 308.0h-3.0M436.0 305.1h-1.8M436.0 302.2h-1.8M436.0 299.3h-1.8M436.0 296.3h-1.8M436.0 293.4h-3.0M436.0 290.5h-1.8" stroke="#222" stroke-width="0.9" fill="none"/>
<g font-size="4.6" fill="#1a1a1a" font-weight="bold"><text x="445.1" y="375.9">10<tspan dy="-1.6" font-size="3.4">2</tspan></text><text x="466.6" y="375.9">10<tspan dy="-1.6" font-size="3.4">3</tspan></text><text x="486.1" y="375.9">10<tspan dy="-1.6" font-size="3.4">4</tspan></text><text x="505.6" y="375.9">10<tspan dy="-1.6" font-size="3.4">5</tspan></text><text x="432.6" y="367.9" font-size="5.2" transform="rotate(-90 432.6 367.9)">0</text><text x="432.6" y="353.3" font-size="5.2" transform="rotate(-90 432.6 353.3)">5</text><text x="432.6" y="338.7" font-size="5.2" transform="rotate(-90 432.6 338.7)">10</text><text x="432.6" y="324.1" font-size="5.2" transform="rotate(-90 432.6 324.1)">15</text><text x="432.6" y="309.5" font-size="5.2" transform="rotate(-90 432.6 309.5)">20</text><text x="432.6" y="294.9" font-size="5.2" transform="rotate(-90 432.6 294.9)">25</text></g>
<rect x="436.3" y="385.1" width="78.60" height="75.50" fill="none" stroke="#4a4a4a" stroke-width="1" />
<path d="M438.3 461.2v1.8M440.3 461.2v1.8M442.3 461.2v1.8M444.3 461.2v1.8M445.8 461.2v1.8M447.3 461.2v1.8M448.8 461.2v1.8M450.3 461.2v1.8M453.8 461.2v3.0M459.4 461.2v1.8M462.6 461.2v1.8M464.9 461.2v1.8M466.7 461.2v1.8M468.2 461.2v1.8M469.4 461.2v1.8M470.5 461.2v1.8M471.5 461.2v1.8M472.3 461.2v3.0M477.9 461.2v1.8M481.1 461.2v1.8M483.4 461.2v1.8M485.2 461.2v1.8M486.7 461.2v1.8M487.9 461.2v1.8M489.0 461.2v1.8M490.0 461.2v1.8M490.8 461.2v3.0M496.2 461.2v1.8M499.4 461.2v1.8M501.6 461.2v1.8M503.4 461.2v1.8M504.8 461.2v1.8M506.0 461.2v1.8M507.1 461.2v1.8M508.0 461.2v1.8M508.8 461.2v3.0M514.4 461.2v1.8M435.7 460.6h-3.0M435.7 457.7h-1.8M435.7 454.8h-1.8M435.7 451.9h-1.8M435.7 449.0h-1.8M435.7 446.1h-3.0M435.7 443.2h-1.8M435.7 440.3h-1.8M435.7 437.4h-1.8M435.7 434.5h-1.8M435.7 431.6h-3.0M435.7 428.7h-1.8M435.7 425.8h-1.8M435.7 422.9h-1.8M435.7 419.9h-1.8M435.7 417.0h-3.0M435.7 414.1h-1.8M435.7 411.2h-1.8M435.7 408.3h-1.8M435.7 405.4h-1.8M435.7 402.5h-3.0M435.7 399.6h-1.8M435.7 396.7h-1.8M435.7 393.8h-1.8M435.7 390.9h-1.8M435.7 388.0h-3.0M435.7 385.1h-1.8" stroke="#222" stroke-width="0.9" fill="none"/>
<g font-size="4.6" fill="#1a1a1a" font-weight="bold"><text x="444.8" y="470.1">10<tspan dy="-1.6" font-size="3.4">2</tspan></text><text x="466.3" y="470.1">10<tspan dy="-1.6" font-size="3.4">3</tspan></text><text x="485.8" y="470.1">10<tspan dy="-1.6" font-size="3.4">4</tspan></text><text x="505.3" y="470.1">10<tspan dy="-1.6" font-size="3.4">5</tspan></text><text x="432.3" y="462.1" font-size="5.2" transform="rotate(-90 432.3 462.1)">0</text><text x="432.3" y="447.6" font-size="5.2" transform="rotate(-90 432.3 447.6)">5</text><text x="432.3" y="433.1" font-size="5.2" transform="rotate(-90 432.3 433.1)">10</text><text x="432.3" y="418.5" font-size="5.2" transform="rotate(-90 432.3 418.5)">15</text><text x="432.3" y="404.0" font-size="5.2" transform="rotate(-90 432.3 404.0)">20</text><text x="432.3" y="389.5" font-size="5.2" transform="rotate(-90 432.3 389.5)">25</text></g>
<rect x="79.6" y="528.2" width="80.70" height="78.10" fill="none" stroke="#4a4a4a" stroke-width="1" />
<path d="M81.6 606.9v1.8M83.6 606.9v1.8M85.6 606.9v1.8M87.6 606.9v1.8M89.1 606.9v1.8M90.6 606.9v1.8M92.1 606.9v1.8M93.6 606.9v1.8M97.1 606.9v3.0M102.7 606.9v1.8M105.9 606.9v1.8M108.2 606.9v1.8M110.0 606.9v1.8M111.5 606.9v1.8M112.7 606.9v1.8M113.8 606.9v1.8M114.8 606.9v1.8M115.6 606.9v3.0M121.2 606.9v1.8M124.4 606.9v1.8M126.7 606.9v1.8M128.5 606.9v1.8M130.0 606.9v1.8M131.2 606.9v1.8M132.3 606.9v1.8M133.3 606.9v1.8M134.1 606.9v3.0M139.5 606.9v1.8M142.7 606.9v1.8M144.9 606.9v1.8M146.7 606.9v1.8M148.1 606.9v1.8M149.3 606.9v1.8M150.4 606.9v1.8M151.3 606.9v1.8M152.1 606.9v3.0M157.7 606.9v1.8M79.0 535.2h-3.0M79.0 537.2h-1.6M79.0 539.2h-1.6M79.0 541.2h-1.6M79.0 543.2h-1.6M79.0 545.2h-1.6M79.0 547.2h-1.6M79.0 549.2h-1.6M79.0 551.2h-1.6M79.0 553.2h-3.0M79.0 555.2h-1.6M79.0 557.2h-1.6M79.0 559.2h-1.6M79.0 561.2h-1.6M79.0 563.2h-1.6M79.0 565.2h-1.6M79.0 567.2h-1.6M79.0 569.2h-1.6M79.0 571.2h-3.0M79.0 573.2h-1.6M79.0 575.2h-1.6M79.0 577.2h-1.6M79.0 579.2h-1.6M79.0 581.2h-1.6M79.0 583.2h-1.6M79.0 585.2h-1.6M79.0 587.2h-1.6M79.0 589.2h-3.0M79.0 591.2h-1.6M79.0 593.2h-1.6M79.0 595.2h-1.6M79.0 597.2h-1.6M79.0 599.2h-1.6M79.0 601.2h-1.6M79.0 603.2h-1.6M79.0 605.2h-1.6M79.0 604.3h-1.6M79.0 601.3h-1.6M79.0 598.3h-1.6M79.0 595.8h-1.6M79.0 593.3h-1.6" stroke="#222" stroke-width="0.9" fill="none"/>
<g font-size="4.6" fill="#1a1a1a" font-weight="bold"><text x="76.1" y="617.3" font-size="3.6">-100</text><text x="91.1" y="615.8">0</text><text x="112.6" y="615.8">10<tspan dy="-1.6" font-size="3.4">3</tspan></text><text x="131.6" y="615.8">10<tspan dy="-1.6" font-size="3.4">4</tspan></text><text x="150.6" y="615.8">10<tspan dy="-1.6" font-size="3.4">5</tspan></text><text x="75.4" y="538.7" transform="rotate(-90 75.4 538.7)">10<tspan dy="-1.6" font-size="3.2">5</tspan></text><text x="75.4" y="556.7" transform="rotate(-90 75.4 556.7)">10<tspan dy="-1.6" font-size="3.2">4</tspan></text><text x="75.4" y="574.7" transform="rotate(-90 75.4 574.7)">10<tspan dy="-1.6" font-size="3.2">3</tspan></text><text x="75.4" y="592.7" transform="rotate(-90 75.4 592.7)">10<tspan dy="-1.6" font-size="3.2">2</tspan></text></g>
<rect x="79.3" y="627.4" width="80.00" height="78.10" fill="none" stroke="#4a4a4a" stroke-width="1" />
<path d="M81.3 706.1v1.8M83.3 706.1v1.8M85.3 706.1v1.8M87.3 706.1v1.8M88.8 706.1v1.8M90.3 706.1v1.8M91.8 706.1v1.8M93.3 706.1v1.8M96.8 706.1v3.0M102.4 706.1v1.8M105.6 706.1v1.8M107.9 706.1v1.8M109.7 706.1v1.8M111.2 706.1v1.8M112.4 706.1v1.8M113.5 706.1v1.8M114.5 706.1v1.8M115.3 706.1v3.0M120.9 706.1v1.8M124.1 706.1v1.8M126.4 706.1v1.8M128.2 706.1v1.8M129.7 706.1v1.8M130.9 706.1v1.8M132.0 706.1v1.8M133.0 706.1v1.8M133.8 706.1v3.0M139.2 706.1v1.8M142.4 706.1v1.8M144.6 706.1v1.8M146.4 706.1v1.8M147.8 706.1v1.8M149.0 706.1v1.8M150.1 706.1v1.8M151.0 706.1v1.8M151.8 706.1v3.0M157.4 706.1v1.8M78.7 634.4h-3.0M78.7 636.4h-1.6M78.7 638.4h-1.6M78.7 640.4h-1.6M78.7 642.4h-1.6M78.7 644.4h-1.6M78.7 646.4h-1.6M78.7 648.4h-1.6M78.7 650.4h-1.6M78.7 652.4h-3.0M78.7 654.4h-1.6M78.7 656.4h-1.6M78.7 658.4h-1.6M78.7 660.4h-1.6M78.7 662.4h-1.6M78.7 664.4h-1.6M78.7 666.4h-1.6M78.7 668.4h-1.6M78.7 670.4h-3.0M78.7 672.4h-1.6M78.7 674.4h-1.6M78.7 676.4h-1.6M78.7 678.4h-1.6M78.7 680.4h-1.6M78.7 682.4h-1.6M78.7 684.4h-1.6M78.7 686.4h-1.6M78.7 688.4h-3.0M78.7 690.4h-1.6M78.7 692.4h-1.6M78.7 694.4h-1.6M78.7 696.4h-1.6M78.7 698.4h-1.6M78.7 700.4h-1.6M78.7 702.4h-1.6M78.7 704.4h-1.6M78.7 703.5h-1.6M78.7 700.5h-1.6M78.7 697.5h-1.6M78.7 695.0h-1.6M78.7 692.5h-1.6" stroke="#222" stroke-width="0.9" fill="none"/>
<g font-size="4.6" fill="#1a1a1a" font-weight="bold"><text x="75.8" y="716.5" font-size="3.6">-100</text><text x="90.8" y="715.0">0</text><text x="112.3" y="715.0">10<tspan dy="-1.6" font-size="3.4">3</tspan></text><text x="131.3" y="715.0">10<tspan dy="-1.6" font-size="3.4">4</tspan></text><text x="150.3" y="715.0">10<tspan dy="-1.6" font-size="3.4">5</tspan></text><text x="75.1" y="637.9" transform="rotate(-90 75.1 637.9)">10<tspan dy="-1.6" font-size="3.2">5</tspan></text><text x="75.1" y="655.9" transform="rotate(-90 75.1 655.9)">10<tspan dy="-1.6" font-size="3.2">4</tspan></text><text x="75.1" y="673.9" transform="rotate(-90 75.1 673.9)">10<tspan dy="-1.6" font-size="3.2">3</tspan></text><text x="75.1" y="691.9" transform="rotate(-90 75.1 691.9)">10<tspan dy="-1.6" font-size="3.2">2</tspan></text></g>
<rect x="192.4" y="528.4" width="79.40" height="78.10" fill="none" stroke="#4a4a4a" stroke-width="1" />
<path d="M194.4 607.1v1.8M196.4 607.1v1.8M198.4 607.1v1.8M200.4 607.1v1.8M201.9 607.1v1.8M203.4 607.1v1.8M204.9 607.1v1.8M206.4 607.1v1.8M209.9 607.1v3.0M215.5 607.1v1.8M218.7 607.1v1.8M221.0 607.1v1.8M222.8 607.1v1.8M224.3 607.1v1.8M225.5 607.1v1.8M226.6 607.1v1.8M227.6 607.1v1.8M228.4 607.1v3.0M234.0 607.1v1.8M237.2 607.1v1.8M239.5 607.1v1.8M241.3 607.1v1.8M242.8 607.1v1.8M244.0 607.1v1.8M245.1 607.1v1.8M246.1 607.1v1.8M246.9 607.1v3.0M252.3 607.1v1.8M255.5 607.1v1.8M257.7 607.1v1.8M259.5 607.1v1.8M260.9 607.1v1.8M262.1 607.1v1.8M263.2 607.1v1.8M264.1 607.1v1.8M264.9 607.1v3.0M270.5 607.1v1.8M191.8 606.5h-3.0M191.8 603.5h-1.8M191.8 600.5h-1.8M191.8 597.5h-1.8M191.8 594.5h-1.8M191.8 591.5h-3.0M191.8 588.5h-1.8M191.8 585.5h-1.8M191.8 582.5h-1.8M191.8 579.5h-1.8M191.8 576.5h-3.0M191.8 573.5h-1.8M191.8 570.5h-1.8M191.8 567.5h-1.8M191.8 564.4h-1.8M191.8 561.4h-3.0M191.8 558.4h-1.8M191.8 555.4h-1.8M191.8 552.4h-1.8M191.8 549.4h-1.8M191.8 546.4h-3.0M191.8 543.4h-1.8M191.8 540.4h-1.8M191.8 537.4h-1.8M191.8 534.4h-1.8M191.8 531.4h-3.0M191.8 528.4h-1.8" stroke="#222" stroke-width="0.9" fill="none"/>
<g font-size="4.6" fill="#1a1a1a" font-weight="bold"><text x="188.9" y="617.5" font-size="3.6">-10</text><text x="200.9" y="616.0">0</text><text x="206.7" y="616.0">10<tspan dy="-1.6" font-size="3.4">2</tspan></text><text x="225.2" y="616.0">10<tspan dy="-1.6" font-size="3.4">3</tspan></text><text x="243.7" y="616.0">10<tspan dy="-1.6" font-size="3.4">4</tspan></text><text x="261.7" y="616.0">10<tspan dy="-1.6" font-size="3.4">5</tspan></text><text x="188.4" y="608.0" font-size="5.2" transform="rotate(-90 188.4 608.0)">0</text><text x="188.4" y="593.0" font-size="5.2" transform="rotate(-90 188.4 593.0)">5</text><text x="188.4" y="578.0" font-size="5.2" transform="rotate(-90 188.4 578.0)">10</text><text x="188.4" y="562.9" font-size="5.2" transform="rotate(-90 188.4 562.9)">15</text><text x="188.4" y="547.9" font-size="5.2" transform="rotate(-90 188.4 547.9)">20</text><text x="188.4" y="532.9" font-size="5.2" transform="rotate(-90 188.4 532.9)">25</text></g>
<rect x="191.9" y="627.7" width="79.40" height="78.30" fill="none" stroke="#4a4a4a" stroke-width="1" />
<path d="M193.9 706.6v1.8M195.9 706.6v1.8M197.9 706.6v1.8M199.9 706.6v1.8M201.4 706.6v1.8M202.9 706.6v1.8M204.4 706.6v1.8M205.9 706.6v1.8M209.4 706.6v3.0M215.0 706.6v1.8M218.2 706.6v1.8M220.5 706.6v1.8M222.3 706.6v1.8M223.8 706.6v1.8M225.0 706.6v1.8M226.1 706.6v1.8M227.1 706.6v1.8M227.9 706.6v3.0M233.5 706.6v1.8M236.7 706.6v1.8M239.0 706.6v1.8M240.8 706.6v1.8M242.3 706.6v1.8M243.5 706.6v1.8M244.6 706.6v1.8M245.6 706.6v1.8M246.4 706.6v3.0M251.8 706.6v1.8M255.0 706.6v1.8M257.2 706.6v1.8M259.0 706.6v1.8M260.4 706.6v1.8M261.6 706.6v1.8M262.7 706.6v1.8M263.6 706.6v1.8M264.4 706.6v3.0M270.0 706.6v1.8M191.3 706.0h-3.0M191.3 703.0h-1.8M191.3 700.0h-1.8M191.3 697.0h-1.8M191.3 694.0h-1.8M191.3 690.9h-3.0M191.3 687.9h-1.8M191.3 684.9h-1.8M191.3 681.9h-1.8M191.3 678.9h-1.8M191.3 675.9h-3.0M191.3 672.9h-1.8M191.3 669.9h-1.8M191.3 666.9h-1.8M191.3 663.8h-1.8M191.3 660.8h-3.0M191.3 657.8h-1.8M191.3 654.8h-1.8M191.3 651.8h-1.8M191.3 648.8h-1.8M191.3 645.8h-3.0M191.3 642.8h-1.8M191.3 639.7h-1.8M191.3 636.7h-1.8M191.3 633.7h-1.8M191.3 630.7h-3.0M191.3 627.7h-1.8" stroke="#222" stroke-width="0.9" fill="none"/>
<g font-size="4.6" fill="#1a1a1a" font-weight="bold"><text x="188.4" y="717.0" font-size="3.6">-10</text><text x="200.4" y="715.5">0</text><text x="206.2" y="715.5">10<tspan dy="-1.6" font-size="3.4">2</tspan></text><text x="224.7" y="715.5">10<tspan dy="-1.6" font-size="3.4">3</tspan></text><text x="243.2" y="715.5">10<tspan dy="-1.6" font-size="3.4">4</tspan></text><text x="261.2" y="715.5">10<tspan dy="-1.6" font-size="3.4">5</tspan></text><text x="187.9" y="707.5" font-size="5.2" transform="rotate(-90 187.9 707.5)">0</text><text x="187.9" y="692.4" font-size="5.2" transform="rotate(-90 187.9 692.4)">5</text><text x="187.9" y="677.4" font-size="5.2" transform="rotate(-90 187.9 677.4)">10</text><text x="187.9" y="662.3" font-size="5.2" transform="rotate(-90 187.9 662.3)">15</text><text x="187.9" y="647.3" font-size="5.2" transform="rotate(-90 187.9 647.3)">20</text><text x="187.9" y="632.2" font-size="5.2" transform="rotate(-90 187.9 632.2)">25</text></g>
<rect x="329.4" y="528.6" width="80.40" height="78.00" fill="none" stroke="#4a4a4a" stroke-width="1" />
<path d="M331.4 607.2v1.8M333.4 607.2v1.8M335.4 607.2v1.8M337.4 607.2v1.8M338.9 607.2v1.8M340.4 607.2v1.8M341.9 607.2v1.8M343.4 607.2v1.8M346.9 607.2v3.0M352.5 607.2v1.8M355.7 607.2v1.8M358.0 607.2v1.8M359.8 607.2v1.8M361.3 607.2v1.8M362.5 607.2v1.8M363.6 607.2v1.8M364.6 607.2v1.8M365.4 607.2v3.0M371.0 607.2v1.8M374.2 607.2v1.8M376.5 607.2v1.8M378.3 607.2v1.8M379.8 607.2v1.8M381.0 607.2v1.8M382.1 607.2v1.8M383.1 607.2v1.8M383.9 607.2v3.0M389.3 607.2v1.8M392.5 607.2v1.8M394.7 607.2v1.8M396.5 607.2v1.8M397.9 607.2v1.8M399.1 607.2v1.8M400.2 607.2v1.8M401.1 607.2v1.8M401.9 607.2v3.0M407.5 607.2v1.8M328.8 535.6h-3.0M328.8 537.6h-1.6M328.8 539.6h-1.6M328.8 541.6h-1.6M328.8 543.6h-1.6M328.8 545.6h-1.6M328.8 547.6h-1.6M328.8 549.6h-1.6M328.8 551.6h-1.6M328.8 553.6h-3.0M328.8 555.6h-1.6M328.8 557.6h-1.6M328.8 559.6h-1.6M328.8 561.6h-1.6M328.8 563.6h-1.6M328.8 565.6h-1.6M328.8 567.6h-1.6M328.8 569.6h-1.6M328.8 571.6h-3.0M328.8 573.6h-1.6M328.8 575.6h-1.6M328.8 577.6h-1.6M328.8 579.6h-1.6M328.8 581.6h-1.6M328.8 583.6h-1.6M328.8 585.6h-1.6M328.8 587.6h-1.6M328.8 589.6h-3.0M328.8 591.6h-1.6M328.8 593.6h-1.6M328.8 595.6h-1.6M328.8 597.6h-1.6M328.8 599.6h-1.6M328.8 601.6h-1.6M328.8 603.6h-1.6M328.8 605.6h-1.6M328.8 604.6h-1.6M328.8 601.6h-1.6M328.8 598.6h-1.6M328.8 596.1h-1.6M328.8 593.6h-1.6" stroke="#222" stroke-width="0.9" fill="none"/>
<g font-size="4.6" fill="#1a1a1a" font-weight="bold"><text x="337.9" y="616.1">10<tspan dy="-1.6" font-size="3.4">2</tspan></text><text x="359.4" y="616.1">10<tspan dy="-1.6" font-size="3.4">3</tspan></text><text x="378.9" y="616.1">10<tspan dy="-1.6" font-size="3.4">4</tspan></text><text x="398.4" y="616.1">10<tspan dy="-1.6" font-size="3.4">5</tspan></text><text x="325.2" y="539.1" transform="rotate(-90 325.2 539.1)">10<tspan dy="-1.6" font-size="3.2">5</tspan></text><text x="325.2" y="557.1" transform="rotate(-90 325.2 557.1)">10<tspan dy="-1.6" font-size="3.2">4</tspan></text><text x="325.2" y="575.1" transform="rotate(-90 325.2 575.1)">10<tspan dy="-1.6" font-size="3.2">3</tspan></text><text x="325.2" y="593.1" transform="rotate(-90 325.2 593.1)">10<tspan dy="-1.6" font-size="3.2">2</tspan></text></g>
<rect x="329.8" y="627.3" width="80.20" height="78.30" fill="none" stroke="#4a4a4a" stroke-width="1" />
<path d="M331.8 706.2v1.8M333.8 706.2v1.8M335.8 706.2v1.8M337.8 706.2v1.8M339.3 706.2v1.8M340.8 706.2v1.8M342.3 706.2v1.8M343.8 706.2v1.8M347.3 706.2v3.0M352.9 706.2v1.8M356.1 706.2v1.8M358.4 706.2v1.8M360.2 706.2v1.8M361.7 706.2v1.8M362.9 706.2v1.8M364.0 706.2v1.8M365.0 706.2v1.8M365.8 706.2v3.0M371.4 706.2v1.8M374.6 706.2v1.8M376.9 706.2v1.8M378.7 706.2v1.8M380.2 706.2v1.8M381.4 706.2v1.8M382.5 706.2v1.8M383.5 706.2v1.8M384.3 706.2v3.0M389.7 706.2v1.8M392.9 706.2v1.8M395.1 706.2v1.8M396.9 706.2v1.8M398.3 706.2v1.8M399.5 706.2v1.8M400.6 706.2v1.8M401.5 706.2v1.8M402.3 706.2v3.0M407.9 706.2v1.8M329.2 634.3h-3.0M329.2 636.3h-1.6M329.2 638.3h-1.6M329.2 640.3h-1.6M329.2 642.3h-1.6M329.2 644.3h-1.6M329.2 646.3h-1.6M329.2 648.3h-1.6M329.2 650.3h-1.6M329.2 652.3h-3.0M329.2 654.3h-1.6M329.2 656.3h-1.6M329.2 658.3h-1.6M329.2 660.3h-1.6M329.2 662.3h-1.6M329.2 664.3h-1.6M329.2 666.3h-1.6M329.2 668.3h-1.6M329.2 670.3h-3.0M329.2 672.3h-1.6M329.2 674.3h-1.6M329.2 676.3h-1.6M329.2 678.3h-1.6M329.2 680.3h-1.6M329.2 682.3h-1.6M329.2 684.3h-1.6M329.2 686.3h-1.6M329.2 688.3h-3.0M329.2 690.3h-1.6M329.2 692.3h-1.6M329.2 694.3h-1.6M329.2 696.3h-1.6M329.2 698.3h-1.6M329.2 700.3h-1.6M329.2 702.3h-1.6M329.2 704.3h-1.6M329.2 703.6h-1.6M329.2 700.6h-1.6M329.2 697.6h-1.6M329.2 695.1h-1.6M329.2 692.6h-1.6" stroke="#222" stroke-width="0.9" fill="none"/>
<g font-size="4.6" fill="#1a1a1a" font-weight="bold"><text x="338.3" y="715.1">10<tspan dy="-1.6" font-size="3.4">2</tspan></text><text x="359.8" y="715.1">10<tspan dy="-1.6" font-size="3.4">3</tspan></text><text x="379.3" y="715.1">10<tspan dy="-1.6" font-size="3.4">4</tspan></text><text x="398.8" y="715.1">10<tspan dy="-1.6" font-size="3.4">5</tspan></text><text x="325.6" y="637.8" transform="rotate(-90 325.6 637.8)">10<tspan dy="-1.6" font-size="3.2">5</tspan></text><text x="325.6" y="655.8" transform="rotate(-90 325.6 655.8)">10<tspan dy="-1.6" font-size="3.2">4</tspan></text><text x="325.6" y="673.8" transform="rotate(-90 325.6 673.8)">10<tspan dy="-1.6" font-size="3.2">3</tspan></text><text x="325.6" y="691.8" transform="rotate(-90 325.6 691.8)">10<tspan dy="-1.6" font-size="3.2">2</tspan></text></g>
<rect x="438.6" y="528.2" width="78.60" height="78.80" fill="none" stroke="#4a4a4a" stroke-width="1" />
<path d="M440.6 607.6v1.8M442.6 607.6v1.8M444.6 607.6v1.8M446.6 607.6v1.8M448.1 607.6v1.8M449.6 607.6v1.8M451.1 607.6v1.8M452.6 607.6v1.8M456.1 607.6v3.0M461.7 607.6v1.8M464.9 607.6v1.8M467.2 607.6v1.8M469.0 607.6v1.8M470.5 607.6v1.8M471.7 607.6v1.8M472.8 607.6v1.8M473.8 607.6v1.8M474.6 607.6v3.0M480.2 607.6v1.8M483.4 607.6v1.8M485.7 607.6v1.8M487.5 607.6v1.8M489.0 607.6v1.8M490.2 607.6v1.8M491.3 607.6v1.8M492.3 607.6v1.8M493.1 607.6v3.0M498.5 607.6v1.8M501.7 607.6v1.8M503.9 607.6v1.8M505.7 607.6v1.8M507.1 607.6v1.8M508.3 607.6v1.8M509.4 607.6v1.8M510.3 607.6v1.8M511.1 607.6v3.0M516.7 607.6v1.8M438.0 607.0h-3.0M438.0 604.0h-1.8M438.0 600.9h-1.8M438.0 597.9h-1.8M438.0 594.9h-1.8M438.0 591.8h-3.0M438.0 588.8h-1.8M438.0 585.8h-1.8M438.0 582.8h-1.8M438.0 579.7h-1.8M438.0 576.7h-3.0M438.0 573.7h-1.8M438.0 570.6h-1.8M438.0 567.6h-1.8M438.0 564.6h-1.8M438.0 561.5h-3.0M438.0 558.5h-1.8M438.0 555.5h-1.8M438.0 552.4h-1.8M438.0 549.4h-1.8M438.0 546.4h-3.0M438.0 543.4h-1.8M438.0 540.3h-1.8M438.0 537.3h-1.8M438.0 534.3h-1.8M438.0 531.2h-3.0M438.0 528.2h-1.8" stroke="#222" stroke-width="0.9" fill="none"/>
<g font-size="4.6" fill="#1a1a1a" font-weight="bold"><text x="435.1" y="618.0" font-size="3.6">-10</text><text x="447.1" y="616.5">0</text><text x="452.9" y="616.5">10<tspan dy="-1.6" font-size="3.4">2</tspan></text><text x="471.4" y="616.5">10<tspan dy="-1.6" font-size="3.4">3</tspan></text><text x="489.9" y="616.5">10<tspan dy="-1.6" font-size="3.4">4</tspan></text><text x="507.9" y="616.5">10<tspan dy="-1.6" font-size="3.4">5</tspan></text><text x="434.6" y="608.5" font-size="5.2" transform="rotate(-90 434.6 608.5)">0</text><text x="434.6" y="593.3" font-size="5.2" transform="rotate(-90 434.6 593.3)">5</text><text x="434.6" y="578.2" font-size="5.2" transform="rotate(-90 434.6 578.2)">10</text><text x="434.6" y="563.0" font-size="5.2" transform="rotate(-90 434.6 563.0)">15</text><text x="434.6" y="547.9" font-size="5.2" transform="rotate(-90 434.6 547.9)">20</text><text x="434.6" y="532.7" font-size="5.2" transform="rotate(-90 434.6 532.7)">25</text></g>
<rect x="438.8" y="627.1" width="78.40" height="77.50" fill="none" stroke="#4a4a4a" stroke-width="1" />
<path d="M440.8 705.2v1.8M442.8 705.2v1.8M444.8 705.2v1.8M446.8 705.2v1.8M448.3 705.2v1.8M449.8 705.2v1.8M451.3 705.2v1.8M452.8 705.2v1.8M456.3 705.2v3.0M461.9 705.2v1.8M465.1 705.2v1.8M467.4 705.2v1.8M469.2 705.2v1.8M470.7 705.2v1.8M471.9 705.2v1.8M473.0 705.2v1.8M474.0 705.2v1.8M474.8 705.2v3.0M480.4 705.2v1.8M483.6 705.2v1.8M485.9 705.2v1.8M487.7 705.2v1.8M489.2 705.2v1.8M490.4 705.2v1.8M491.5 705.2v1.8M492.5 705.2v1.8M493.3 705.2v3.0M498.7 705.2v1.8M501.9 705.2v1.8M504.1 705.2v1.8M505.9 705.2v1.8M507.3 705.2v1.8M508.5 705.2v1.8M509.6 705.2v1.8M510.5 705.2v1.8M511.3 705.2v3.0M438.2 704.6h-3.0M438.2 701.6h-1.8M438.2 698.6h-1.8M438.2 695.7h-1.8M438.2 692.7h-1.8M438.2 689.7h-3.0M438.2 686.7h-1.8M438.2 683.7h-1.8M438.2 680.8h-1.8M438.2 677.8h-1.8M438.2 674.8h-3.0M438.2 671.8h-1.8M438.2 668.8h-1.8M438.2 665.9h-1.8M438.2 662.9h-1.8M438.2 659.9h-3.0M438.2 656.9h-1.8M438.2 653.9h-1.8M438.2 650.9h-1.8M438.2 648.0h-1.8M438.2 645.0h-3.0M438.2 642.0h-1.8M438.2 639.0h-1.8M438.2 636.0h-1.8M438.2 633.1h-1.8M438.2 630.1h-3.0M438.2 627.1h-1.8" stroke="#222" stroke-width="0.9" fill="none"/>
<g font-size="4.6" fill="#1a1a1a" font-weight="bold"><text x="435.3" y="715.6" font-size="3.6">-10</text><text x="447.3" y="714.1">0</text><text x="453.1" y="714.1">10<tspan dy="-1.6" font-size="3.4">2</tspan></text><text x="471.6" y="714.1">10<tspan dy="-1.6" font-size="3.4">3</tspan></text><text x="490.1" y="714.1">10<tspan dy="-1.6" font-size="3.4">4</tspan></text><text x="508.1" y="714.1">10<tspan dy="-1.6" font-size="3.4">5</tspan></text><text x="434.8" y="706.1" font-size="5.2" transform="rotate(-90 434.8 706.1)">0</text><text x="434.8" y="691.2" font-size="5.2" transform="rotate(-90 434.8 691.2)">5</text><text x="434.8" y="676.3" font-size="5.2" transform="rotate(-90 434.8 676.3)">10</text><text x="434.8" y="661.4" font-size="5.2" transform="rotate(-90 434.8 661.4)">15</text><text x="434.8" y="646.5" font-size="5.2" transform="rotate(-90 434.8 646.5)">20</text><text x="434.8" y="631.6" font-size="5.2" transform="rotate(-90 434.8 631.6)">25</text></g>
<path d="M67 73.5V244H155.5" stroke="#111" stroke-width="1.7" fill="none"/>
<path d="M179 74V244H269" stroke="#111" stroke-width="1.7" fill="none"/>
<path d="M314 74V244H404" stroke="#111" stroke-width="1.7" fill="none"/>
<path d="M428.8 74.5V244H516.5" stroke="#111" stroke-width="1.7" fill="none"/>
<path d="M67.5 326V477H159.5" stroke="#111" stroke-width="1.7" fill="none"/>
<path d="M181 326V477H272" stroke="#111" stroke-width="1.7" fill="none"/>
<path d="M316.5 326V477.5H407.5" stroke="#111" stroke-width="1.7" fill="none"/>
<path d="M426 326V477.5H518" stroke="#111" stroke-width="1.7" fill="none"/>
<path d="M65.5 545V719.5H156.3" stroke="#111" stroke-width="1.7" fill="none"/>
<path d="M180 545V719.5H271.3" stroke="#111" stroke-width="1.7" fill="none"/>
<path d="M317.5 545V719.5H407.5" stroke="#111" stroke-width="1.7" fill="none"/>
<path d="M428.6 545V719.5H517" stroke="#111" stroke-width="1.7" fill="none"/>
<text x="62" y="242" font-size="11.4" font-weight="normal" text-anchor="start" fill="#000" textLength="34.69999999999999" lengthAdjust="spacingAndGlyphs" transform="rotate(-90 62 242)" >CD117</text>
<text x="92.5" y="254" font-size="11.4" font-weight="normal" text-anchor="start" fill="#000" textLength="28.5" lengthAdjust="spacingAndGlyphs" >CD34</text>
<text x="175.7" y="242.5" font-size="11.4" font-weight="normal" text-anchor="start" fill="#000" textLength="36.5" lengthAdjust="spacingAndGlyphs" transform="rotate(-90 175.7 242.5)" >Counts</text>
<text x="203" y="255.2" font-size="11.4" font-weight="normal" text-anchor="start" fill="#000" textLength="22.5" lengthAdjust="spacingAndGlyphs" >GFP</text>
<text x="310.2" y="244" font-size="11.4" font-weight="normal" text-anchor="start" fill="#000" textLength="34" lengthAdjust="spacingAndGlyphs" transform="rotate(-90 310.2 244)" >CD117</text>
<text x="341" y="255.2" font-size="11.4" font-weight="normal" text-anchor="start" fill="#000" textLength="29.5" lengthAdjust="spacingAndGlyphs" >CD34</text>
<text x="423.2" y="242.7" font-size="11.4" font-weight="normal" text-anchor="start" fill="#000" textLength="34.69999999999999" lengthAdjust="spacingAndGlyphs" transform="rotate(-90 423.2 242.7)" >Counts</text>
<text x="456.5" y="255.4" font-size="11.4" font-weight="normal" text-anchor="start" fill="#000" textLength="23.100000000000023" lengthAdjust="spacingAndGlyphs" >GFP</text>
<text x="65.7" y="472.5" font-size="11.4" font-weight="normal" text-anchor="start" fill="#000" textLength="27.5" lengthAdjust="spacingAndGlyphs" transform="rotate(-90 65.7 472.5)" >CD71</text>
<text x="100.5" y="488.3" font-size="11.4" font-weight="normal" text-anchor="start" fill="#000" textLength="35.80000000000001" lengthAdjust="spacingAndGlyphs" >Ter119</text>
<text x="179.7" y="473" font-size="11.4" font-weight="normal" text-anchor="start" fill="#000" textLength="35.5" lengthAdjust="spacingAndGlyphs" transform="rotate(-90 179.7 473)" >Counts</text>
<text x="204.5" y="488.3" font-size="11.4" font-weight="normal" text-anchor="start" fill="#000" textLength="23.5" lengthAdjust="spacingAndGlyphs" >GFP</text>
<text x="315.9" y="470" font-size="11.4" font-weight="normal" text-anchor="start" fill="#000" textLength="27.5" lengthAdjust="spacingAndGlyphs" transform="rotate(-90 315.9 470)" >CD71</text>
<text x="348" y="488.7" font-size="11.4" font-weight="normal" text-anchor="start" fill="#000" textLength="35.80000000000001" lengthAdjust="spacingAndGlyphs" >Ter119</text>
<text x="422.5" y="473.7" font-size="11.4" font-weight="normal" text-anchor="start" fill="#000" textLength="36.0" lengthAdjust="spacingAndGlyphs" transform="rotate(-90 422.5 473.7)" >Counts</text>
<text x="459.7" y="488.5" font-size="11.4" font-weight="normal" text-anchor="start" fill="#000" textLength="22.19999999999999" lengthAdjust="spacingAndGlyphs" >GFP</text>
<text x="60.2" y="715" font-size="11.4" font-weight="normal" text-anchor="start" fill="#000" textLength="27.5" lengthAdjust="spacingAndGlyphs" transform="rotate(-90 60.2 715)" >CD61</text>
<text x="90.5" y="730.6" font-size="11.4" font-weight="normal" text-anchor="start" fill="#000" textLength="28.299999999999997" lengthAdjust="spacingAndGlyphs" >CD41</text>
<text x="175.2" y="713.7" font-size="11.4" font-weight="normal" text-anchor="start" fill="#000" textLength="36.200000000000045" lengthAdjust="spacingAndGlyphs" transform="rotate(-90 175.2 713.7)" >Counts</text>
<text x="202" y="730.6" font-size="11.4" font-weight="normal" text-anchor="start" fill="#000" textLength="22.5" lengthAdjust="spacingAndGlyphs" >GFP</text>
<text x="315.2" y="716.2" font-size="11.4" font-weight="normal" text-anchor="start" fill="#000" textLength="27.5" lengthAdjust="spacingAndGlyphs" transform="rotate(-90 315.2 716.2)" >CD61</text>
<text x="340" y="730.6" font-size="11.4" font-weight="normal" text-anchor="start" fill="#000" textLength="28.80000000000001" lengthAdjust="spacingAndGlyphs" >CD41</text>
<text x="425" y="717.4" font-size="11.4" font-weight="normal" text-anchor="start" fill="#000" textLength="36.0" lengthAdjust="spacingAndGlyphs" transform="rotate(-90 425 717.4)" >Counts</text>
<text x="452.3" y="730.6" font-size="11.4" font-weight="normal" text-anchor="start" fill="#000" textLength="24.30000000000001" lengthAdjust="spacingAndGlyphs" >GFP</text>
</svg>
</body></html>
